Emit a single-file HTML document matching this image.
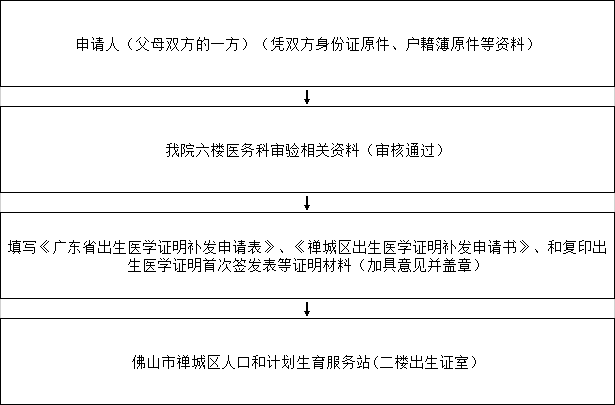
<!DOCTYPE html>
<html lang="zh-CN">
<head>
<meta charset="utf-8">
<title>出生医学证明补发流程</title>
<style>
html,body{margin:0;padding:0;background:#fff;}
body{width:615px;height:405px;overflow:hidden;position:relative;font-family:"Liberation Sans",sans-serif;}
.flow{position:absolute;left:0;top:0;width:615px;height:405px;background:#fff;overflow:hidden;}
.box{position:absolute;left:0;width:613px;height:85px;border:1px solid #000;background:#fff;}
.gap{position:absolute;left:0;width:613px;height:19px;border-left:1px solid #d0d0d0;border-right:1px solid #d0d0d0;}
.ln{position:absolute;height:15px;margin:0;padding:0;}
.ln svg{position:absolute;left:0;top:0;display:block;shape-rendering:crispEdges;}
.ln span{position:absolute;left:0;top:0;width:100%;height:15px;font-size:15px;line-height:15px;white-space:nowrap;overflow:hidden;color:transparent;text-align:center;}
</style>
</head>
<body>
<div class="flow">
<div class="box" style="top:0px">
<p class="ln" style="left:74px;top:35px;width:465px"><svg width="465" height="15" viewBox="0 0 465 15" aria-hidden="true"><path fill="#000" d="M7 1h1v1h-1zM17 1h1v1h-1zM24 1h1v1h-1zM37 1h1v1h-1zM65 1h1v1h-1zM69 1h1v1h-1zM111 1h1v1h-1zM124 1h1v1h-1zM129 1h1v1h-1zM156 1h1v1h-1zM199 1h1v1h-1zM204 1h4v1h-4zM231 1h1v1h-1zM246 1h1v1h-1zM259 1h1v1h-1zM262 1h1v1h-1zM265 1h1v1h-1zM272 1h1v1h-1zM288 1h11v1h-11zM304 1h1v1h-1zM309 1h1v1h-1zM337 1h1v1h-1zM348 1h1v1h-1zM354 1h1v1h-1zM363 1h1v1h-1zM369 1h1v1h-1zM378 1h11v1h-11zM394 1h1v1h-1zM399 1h1v1h-1zM408 1h1v1h-1zM414 1h1v1h-1zM422 1h1v1h-1zM427 1h1v1h-1zM438 1h1v1h-1zM446 1h1v1h-1zM7 2h1v1h-1zM18 2h1v1h-1zM21 2h7v1h-7zM37 2h1v1h-1zM56 2h1v1h-1zM64 2h1v1h-1zM70 2h1v1h-1zM79 2h8v1h-8zM91 2h6v1h-6zM98 2h5v1h-5zM112 2h1v1h-1zM124 2h1v1h-1zM129 2h1v1h-1zM157 2h1v1h-1zM168 2h1v1h-1zM191 2h1v1h-1zM199 2h1v1h-1zM201 2h4v1h-4zM211 2h6v1h-6zM218 2h5v1h-5zM232 2h1v1h-1zM245 2h1v1h-1zM259 2h1v1h-1zM262 2h1v1h-1zM265 2h1v1h-1zM273 2h1v1h-1zM275 2h9v1h-9zM288 2h1v1h-1zM293 2h1v1h-1zM304 2h1v1h-1zM309 2h1v1h-1zM338 2h1v1h-1zM346 2h5v1h-5zM353 2h6v1h-6zM362 2h5v1h-5zM368 2h6v1h-6zM378 2h1v1h-1zM383 2h1v1h-1zM394 2h1v1h-1zM399 2h1v1h-1zM407 2h5v1h-5zM413 2h6v1h-6zM423 2h1v1h-1zM427 2h6v1h-6zM438 2h1v1h-1zM443 2h1v1h-1zM446 2h1v1h-1zM453 2h1v1h-1zM2 3h11v1h-11zM18 3h1v1h-1zM24 3h1v1h-1zM37 3h1v1h-1zM55 3h1v1h-1zM63 3h1v1h-1zM71 3h1v1h-1zM79 3h1v1h-1zM82 3h1v1h-1zM86 3h1v1h-1zM96 3h1v1h-1zM98 3h1v1h-1zM102 3h1v1h-1zM106 3h13v1h-13zM123 3h1v1h-1zM129 3h5v1h-5zM151 3h13v1h-13zM169 3h1v1h-1zM190 3h1v1h-1zM198 3h1v1h-1zM204 3h1v1h-1zM216 3h1v1h-1zM218 3h1v1h-1zM222 3h1v1h-1zM226 3h13v1h-13zM243 3h9v1h-9zM258 3h1v1h-1zM262 3h1v1h-1zM266 3h1v1h-1zM273 3h1v1h-1zM280 3h1v1h-1zM288 3h1v1h-1zM293 3h1v1h-1zM303 3h1v1h-1zM305 3h1v1h-1zM309 3h1v1h-1zM333 3h11v1h-11zM348 3h1v1h-1zM353 3h1v1h-1zM356 3h1v1h-1zM361 3h1v1h-1zM364 3h1v1h-1zM369 3h1v1h-1zM371 3h1v1h-1zM378 3h1v1h-1zM383 3h1v1h-1zM393 3h1v1h-1zM395 3h1v1h-1zM399 3h1v1h-1zM407 3h1v1h-1zM410 3h1v1h-1zM413 3h1v1h-1zM417 3h1v1h-1zM426 3h1v1h-1zM429 3h1v1h-1zM432 3h1v1h-1zM436 3h1v1h-1zM438 3h1v1h-1zM440 3h1v1h-1zM444 3h1v1h-1zM446 3h1v1h-1zM454 3h1v1h-1zM2 4h1v1h-1zM7 4h1v1h-1zM12 4h1v1h-1zM22 4h5v1h-5zM37 4h1v1h-1zM54 4h1v1h-1zM62 4h1v1h-1zM72 4h1v1h-1zM79 4h1v1h-1zM83 4h1v1h-1zM86 4h1v1h-1zM96 4h1v1h-1zM98 4h1v1h-1zM102 4h1v1h-1zM111 4h1v1h-1zM122 4h5v1h-5zM128 4h1v1h-1zM133 4h1v1h-1zM156 4h1v1h-1zM170 4h1v1h-1zM189 4h1v1h-1zM197 4h2v1h-2zM204 4h1v1h-1zM216 4h1v1h-1zM218 4h1v1h-1zM222 4h1v1h-1zM231 4h1v1h-1zM243 4h1v1h-1zM251 4h1v1h-1zM258 4h1v1h-1zM261 4h1v1h-1zM267 4h1v1h-1zM280 4h1v1h-1zM288 4h1v1h-1zM291 4h7v1h-7zM303 4h1v1h-1zM305 4h8v1h-8zM333 4h1v1h-1zM343 4h1v1h-1zM346 4h5v1h-5zM352 4h6v1h-6zM366 4h8v1h-8zM378 4h1v1h-1zM381 4h7v1h-7zM393 4h1v1h-1zM395 4h8v1h-8zM406 4h1v1h-1zM410 4h1v1h-1zM413 4h1v1h-1zM417 4h1v1h-1zM425 4h1v1h-1zM429 4h1v1h-1zM437 4h3v1h-3zM444 4h1v1h-1zM446 4h1v1h-1zM455 4h1v1h-1zM2 5h1v1h-1zM7 5h1v1h-1zM12 5h1v1h-1zM24 5h1v1h-1zM37 5h1v1h-1zM54 5h1v1h-1zM61 5h1v1h-1zM64 5h1v1h-1zM70 5h1v1h-1zM73 5h1v1h-1zM79 5h1v1h-1zM86 5h1v1h-1zM92 5h1v1h-1zM95 5h1v1h-1zM98 5h1v1h-1zM102 5h1v1h-1zM111 5h1v1h-1zM122 5h1v1h-1zM126 5h2v1h-2zM133 5h1v1h-1zM156 5h1v1h-1zM170 5h1v1h-1zM189 5h1v1h-1zM196 5h1v1h-1zM198 5h1v1h-1zM200 5h9v1h-9zM212 5h1v1h-1zM215 5h1v1h-1zM218 5h1v1h-1zM222 5h1v1h-1zM231 5h1v1h-1zM243 5h9v1h-9zM257 5h2v1h-2zM261 5h1v1h-1zM267 5h1v1h-1zM280 5h1v1h-1zM288 5h1v1h-1zM291 5h1v1h-1zM297 5h1v1h-1zM302 5h2v1h-2zM305 5h1v1h-1zM309 5h1v1h-1zM333 5h1v1h-1zM343 5h1v1h-1zM348 5h1v1h-1zM353 5h1v1h-1zM356 5h1v1h-1zM362 5h1v1h-1zM369 5h1v1h-1zM378 5h1v1h-1zM381 5h1v1h-1zM387 5h1v1h-1zM392 5h2v1h-2zM395 5h1v1h-1zM399 5h1v1h-1zM408 5h10v1h-10zM423 5h1v1h-1zM428 5h1v1h-1zM430 5h1v1h-1zM438 5h1v1h-1zM442 5h1v1h-1zM446 5h1v1h-1zM455 5h1v1h-1zM2 6h1v1h-1zM7 6h1v1h-1zM12 6h1v1h-1zM16 6h3v1h-3zM20 6h9v1h-9zM37 6h1v1h-1zM53 6h1v1h-1zM64 6h1v1h-1zM70 6h1v1h-1zM76 6h13v1h-13zM93 6h1v1h-1zM95 6h1v1h-1zM98 6h1v1h-1zM102 6h1v1h-1zM111 6h1v1h-1zM122 6h1v1h-1zM126 6h1v1h-1zM133 6h1v1h-1zM156 6h1v1h-1zM171 6h1v1h-1zM188 6h1v1h-1zM198 6h1v1h-1zM204 6h1v1h-1zM213 6h1v1h-1zM215 6h1v1h-1zM218 6h1v1h-1zM222 6h1v1h-1zM231 6h1v1h-1zM243 6h1v1h-1zM251 6h1v1h-1zM257 6h2v1h-2zM260 6h1v1h-1zM268 6h1v1h-1zM271 6h3v1h-3zM277 6h1v1h-1zM280 6h1v1h-1zM288 6h1v1h-1zM291 6h7v1h-7zM301 6h1v1h-1zM303 6h1v1h-1zM309 6h1v1h-1zM333 6h1v1h-1zM343 6h1v1h-1zM346 6h5v1h-5zM353 6h1v1h-1zM356 6h1v1h-1zM363 6h1v1h-1zM366 6h7v1h-7zM378 6h1v1h-1zM381 6h7v1h-7zM391 6h1v1h-1zM393 6h1v1h-1zM399 6h1v1h-1zM413 6h1v1h-1zM422 6h1v1h-1zM427 6h1v1h-1zM431 6h1v1h-1zM436 6h5v1h-5zM443 6h1v1h-1zM446 6h1v1h-1zM456 6h1v1h-1zM2 7h11v1h-11zM18 7h1v1h-1zM36 7h1v1h-1zM38 7h1v1h-1zM53 7h1v1h-1zM65 7h1v1h-1zM69 7h1v1h-1zM78 7h1v1h-1zM86 7h1v1h-1zM93 7h1v1h-1zM95 7h1v1h-1zM99 7h1v1h-1zM101 7h1v1h-1zM110 7h7v1h-7zM122 7h1v1h-1zM126 7h1v1h-1zM129 7h1v1h-1zM133 7h1v1h-1zM136 7h13v1h-13zM155 7h7v1h-7zM171 7h1v1h-1zM188 7h1v1h-1zM198 7h1v1h-1zM204 7h1v1h-1zM213 7h1v1h-1zM215 7h1v1h-1zM219 7h1v1h-1zM221 7h1v1h-1zM230 7h7v1h-7zM243 7h9v1h-9zM253 7h1v1h-1zM256 7h1v1h-1zM258 7h1v1h-1zM260 7h7v1h-7zM273 7h1v1h-1zM277 7h1v1h-1zM280 7h4v1h-4zM288 7h1v1h-1zM291 7h1v1h-1zM297 7h1v1h-1zM303 7h1v1h-1zM309 7h1v1h-1zM333 7h11v1h-11zM348 7h1v1h-1zM351 7h8v1h-8zM366 7h1v1h-1zM369 7h1v1h-1zM372 7h1v1h-1zM378 7h1v1h-1zM381 7h1v1h-1zM387 7h1v1h-1zM393 7h1v1h-1zM399 7h1v1h-1zM413 7h1v1h-1zM421 7h1v1h-1zM425 7h2v1h-2zM432 7h2v1h-2zM438 7h1v1h-1zM443 7h1v1h-1zM446 7h1v1h-1zM456 7h1v1h-1zM2 8h1v1h-1zM7 8h1v1h-1zM12 8h1v1h-1zM18 8h1v1h-1zM21 8h7v1h-7zM36 8h1v1h-1zM38 8h1v1h-1zM53 8h1v1h-1zM65 8h1v1h-1zM69 8h1v1h-1zM78 8h1v1h-1zM81 8h1v1h-1zM86 8h1v1h-1zM94 8h1v1h-1zM99 8h1v1h-1zM101 8h1v1h-1zM110 8h1v1h-1zM116 8h1v1h-1zM122 8h5v1h-5zM130 8h1v1h-1zM133 8h1v1h-1zM155 8h1v1h-1zM161 8h1v1h-1zM171 8h1v1h-1zM188 8h1v1h-1zM198 8h1v1h-1zM201 8h7v1h-7zM214 8h1v1h-1zM219 8h1v1h-1zM221 8h1v1h-1zM230 8h1v1h-1zM236 8h1v1h-1zM243 8h1v1h-1zM251 8h2v1h-2zM258 8h1v1h-1zM263 8h1v1h-1zM266 8h1v1h-1zM273 8h1v1h-1zM277 8h1v1h-1zM280 8h1v1h-1zM288 8h1v1h-1zM291 8h7v1h-7zM303 8h1v1h-1zM309 8h1v1h-1zM333 8h1v1h-1zM343 8h1v1h-1zM346 8h6v1h-6zM361 8h1v1h-1zM366 8h7v1h-7zM378 8h1v1h-1zM381 8h7v1h-7zM393 8h1v1h-1zM399 8h1v1h-1zM406 8h13v1h-13zM423 8h9v1h-9zM437 8h2v1h-2zM442 8h7v1h-7zM456 8h1v1h-1zM2 9h1v1h-1zM7 9h1v1h-1zM12 9h1v1h-1zM18 9h1v1h-1zM21 9h1v1h-1zM27 9h1v1h-1zM36 9h1v1h-1zM38 9h1v1h-1zM53 9h1v1h-1zM66 9h1v1h-1zM68 9h1v1h-1zM78 9h1v1h-1zM82 9h1v1h-1zM86 9h1v1h-1zM94 9h1v1h-1zM100 9h1v1h-1zM110 9h1v1h-1zM116 9h1v1h-1zM122 9h1v1h-1zM126 9h1v1h-1zM130 9h1v1h-1zM133 9h1v1h-1zM155 9h1v1h-1zM161 9h1v1h-1zM171 9h1v1h-1zM188 9h1v1h-1zM214 9h1v1h-1zM220 9h1v1h-1zM230 9h1v1h-1zM236 9h1v1h-1zM241 9h11v1h-11zM258 9h1v1h-1zM263 9h1v1h-1zM266 9h1v1h-1zM273 9h1v1h-1zM277 9h1v1h-1zM280 9h1v1h-1zM288 9h1v1h-1zM294 9h1v1h-1zM303 9h1v1h-1zM305 9h9v1h-9zM333 9h1v1h-1zM348 9h1v1h-1zM352 9h6v1h-6zM362 9h1v1h-1zM366 9h1v1h-1zM369 9h1v1h-1zM372 9h1v1h-1zM378 9h1v1h-1zM384 9h1v1h-1zM393 9h1v1h-1zM395 9h9v1h-9zM423 9h1v1h-1zM431 9h1v1h-1zM437 9h3v1h-3zM446 9h1v1h-1zM456 9h1v1h-1zM2 10h1v1h-1zM7 10h1v1h-1zM12 10h1v1h-1zM18 10h1v1h-1zM21 10h7v1h-7zM35 10h1v1h-1zM39 10h1v1h-1zM54 10h1v1h-1zM67 10h1v1h-1zM78 10h1v1h-1zM86 10h1v1h-1zM93 10h1v1h-1zM95 10h1v1h-1zM100 10h1v1h-1zM110 10h1v1h-1zM116 10h1v1h-1zM122 10h1v1h-1zM126 10h1v1h-1zM133 10h1v1h-1zM155 10h1v1h-1zM161 10h1v1h-1zM170 10h1v1h-1zM189 10h1v1h-1zM200 10h5v1h-5zM213 10h1v1h-1zM215 10h1v1h-1zM220 10h1v1h-1zM230 10h1v1h-1zM236 10h1v1h-1zM248 10h4v1h-4zM258 10h1v1h-1zM263 10h1v1h-1zM266 10h1v1h-1zM273 10h1v1h-1zM277 10h1v1h-1zM280 10h1v1h-1zM288 10h1v1h-1zM291 10h1v1h-1zM294 10h1v1h-1zM297 10h1v1h-1zM303 10h1v1h-1zM309 10h1v1h-1zM318 10h1v1h-1zM333 10h1v1h-1zM347 10h3v1h-3zM352 10h1v1h-1zM357 10h1v1h-1zM364 10h1v1h-1zM366 10h7v1h-7zM378 10h1v1h-1zM381 10h1v1h-1zM384 10h1v1h-1zM387 10h1v1h-1zM393 10h1v1h-1zM399 10h1v1h-1zM407 10h11v1h-11zM423 10h1v1h-1zM427 10h1v1h-1zM431 10h1v1h-1zM436 10h1v1h-1zM438 10h1v1h-1zM440 10h1v1h-1zM446 10h1v1h-1zM455 10h1v1h-1zM2 11h11v1h-11zM18 11h1v1h-1zM20 11h2v1h-2zM27 11h1v1h-1zM35 11h1v1h-1zM39 11h1v1h-1zM54 11h1v1h-1zM66 11h1v1h-1zM68 11h1v1h-1zM78 11h11v1h-11zM93 11h1v1h-1zM95 11h1v1h-1zM99 11h1v1h-1zM101 11h1v1h-1zM109 11h1v1h-1zM116 11h1v1h-1zM122 11h1v1h-1zM126 11h1v1h-1zM133 11h1v1h-1zM154 11h1v1h-1zM161 11h1v1h-1zM170 11h1v1h-1zM189 11h1v1h-1zM200 11h1v1h-1zM204 11h1v1h-1zM213 11h1v1h-1zM215 11h1v1h-1zM219 11h1v1h-1zM221 11h1v1h-1zM229 11h1v1h-1zM236 11h1v1h-1zM246 11h2v1h-2zM251 11h1v1h-1zM258 11h1v1h-1zM262 11h1v1h-1zM266 11h1v1h-1zM273 11h1v1h-1zM275 11h1v1h-1zM277 11h1v1h-1zM280 11h1v1h-1zM287 11h1v1h-1zM290 11h1v1h-1zM294 11h1v1h-1zM298 11h1v1h-1zM303 11h1v1h-1zM309 11h1v1h-1zM319 11h1v1h-1zM333 11h1v1h-1zM346 11h1v1h-1zM348 11h1v1h-1zM350 11h1v1h-1zM352 11h6v1h-6zM363 11h1v1h-1zM366 11h1v1h-1zM369 11h1v1h-1zM372 11h1v1h-1zM377 11h1v1h-1zM380 11h1v1h-1zM384 11h1v1h-1zM388 11h1v1h-1zM393 11h1v1h-1zM399 11h1v1h-1zM414 11h1v1h-1zM423 11h1v1h-1zM427 11h1v1h-1zM431 11h1v1h-1zM436 11h1v1h-1zM438 11h1v1h-1zM446 11h1v1h-1zM455 11h1v1h-1zM2 12h1v1h-1zM7 12h1v1h-1zM12 12h1v1h-1zM18 12h2v1h-2zM21 12h7v1h-7zM34 12h1v1h-1zM40 12h1v1h-1zM55 12h1v1h-1zM65 12h1v1h-1zM69 12h1v1h-1zM86 12h1v1h-1zM92 12h1v1h-1zM95 12h1v1h-1zM98 12h1v1h-1zM101 12h1v1h-1zM108 12h1v1h-1zM116 12h1v1h-1zM122 12h5v1h-5zM133 12h1v1h-1zM153 12h1v1h-1zM161 12h1v1h-1zM169 12h1v1h-1zM190 12h1v1h-1zM199 12h1v1h-1zM204 12h1v1h-1zM208 12h1v1h-1zM212 12h1v1h-1zM215 12h1v1h-1zM218 12h1v1h-1zM221 12h1v1h-1zM228 12h1v1h-1zM236 12h1v1h-1zM244 12h2v1h-2zM251 12h1v1h-1zM258 12h1v1h-1zM262 12h1v1h-1zM266 12h1v1h-1zM273 12h2v1h-2zM277 12h1v1h-1zM280 12h1v1h-1zM287 12h1v1h-1zM290 12h1v1h-1zM294 12h1v1h-1zM298 12h1v1h-1zM303 12h1v1h-1zM309 12h1v1h-1zM319 12h2v1h-2zM332 12h1v1h-1zM348 12h1v1h-1zM352 12h1v1h-1zM357 12h1v1h-1zM363 12h1v1h-1zM365 12h9v1h-9zM377 12h1v1h-1zM380 12h1v1h-1zM384 12h1v1h-1zM388 12h1v1h-1zM393 12h1v1h-1zM399 12h1v1h-1zM409 12h1v1h-1zM414 12h1v1h-1zM426 12h1v1h-1zM428 12h2v1h-2zM438 12h1v1h-1zM446 12h1v1h-1zM454 12h1v1h-1zM7 13h1v1h-1zM18 13h1v1h-1zM21 13h1v1h-1zM27 13h1v1h-1zM33 13h1v1h-1zM41 13h1v1h-1zM56 13h1v1h-1zM63 13h2v1h-2zM70 13h2v1h-2zM86 13h1v1h-1zM92 13h1v1h-1zM97 13h1v1h-1zM102 13h1v1h-1zM107 13h1v1h-1zM116 13h1v1h-1zM122 13h1v1h-1zM126 13h1v1h-1zM133 13h1v1h-1zM152 13h1v1h-1zM161 13h1v1h-1zM168 13h1v1h-1zM191 13h1v1h-1zM198 13h1v1h-1zM204 13h1v1h-1zM208 13h1v1h-1zM212 13h1v1h-1zM217 13h1v1h-1zM222 13h1v1h-1zM227 13h1v1h-1zM236 13h1v1h-1zM241 13h3v1h-3zM251 13h1v1h-1zM258 13h1v1h-1zM261 13h1v1h-1zM266 13h1v1h-1zM273 13h1v1h-1zM277 13h1v1h-1zM280 13h1v1h-1zM286 13h1v1h-1zM294 13h1v1h-1zM303 13h1v1h-1zM309 13h1v1h-1zM320 13h1v1h-1zM332 13h1v1h-1zM348 13h1v1h-1zM352 13h6v1h-6zM362 13h1v1h-1zM367 13h1v1h-1zM371 13h1v1h-1zM376 13h1v1h-1zM384 13h1v1h-1zM393 13h1v1h-1zM399 13h1v1h-1zM410 13h1v1h-1zM414 13h1v1h-1zM424 13h2v1h-2zM430 13h2v1h-2zM438 13h1v1h-1zM446 13h1v1h-1zM453 13h1v1h-1zM7 14h1v1h-1zM21 14h1v1h-1zM25 14h3v1h-3zM31 14h2v1h-2zM42 14h2v1h-2zM61 14h2v1h-2zM72 14h2v1h-2zM84 14h2v1h-2zM91 14h1v1h-1zM96 14h1v1h-1zM103 14h1v1h-1zM106 14h1v1h-1zM114 14h2v1h-2zM122 14h1v1h-1zM126 14h1v1h-1zM131 14h2v1h-2zM151 14h1v1h-1zM159 14h2v1h-2zM196 14h2v1h-2zM205 14h3v1h-3zM211 14h1v1h-1zM216 14h1v1h-1zM223 14h1v1h-1zM226 14h1v1h-1zM234 14h2v1h-2zM249 14h2v1h-2zM258 14h1v1h-1zM260 14h1v1h-1zM264 14h2v1h-2zM275 14h9v1h-9zM286 14h1v1h-1zM292 14h2v1h-2zM303 14h1v1h-1zM309 14h1v1h-1zM331 14h1v1h-1zM348 14h1v1h-1zM352 14h1v1h-1zM357 14h1v1h-1zM362 14h1v1h-1zM368 14h3v1h-3zM376 14h1v1h-1zM382 14h2v1h-2zM393 14h1v1h-1zM399 14h1v1h-1zM412 14h2v1h-2zM421 14h3v1h-3zM432 14h1v1h-1zM438 14h1v1h-1zM446 14h1v1h-1z"/></svg><span>申请人（父母双方的一方）（凭双方身份证原件、户籍簿原件等资料）</span></p>
</div>
<div class="gap" style="top:87px">
<p class="ln" style="left:299px;top:2px;width:15px"><svg width="15" height="15" viewBox="0 0 15 15" aria-hidden="true"><path fill="#000" d="M6 1h2v1h-2zM6 2h2v1h-2zM6 3h2v1h-2zM6 4h2v1h-2zM6 5h2v1h-2zM6 6h2v1h-2zM6 7h2v1h-2zM6 8h2v1h-2zM6 9h2v1h-2zM4 10h6v1h-6zM5 11h4v1h-4zM5 12h4v1h-4zM6 13h2v1h-2zM6 14h2v1h-2z"/></svg><span>↓</span></p>
</div>
<div class="box" style="top:106px">
<p class="ln" style="left:164px;top:35px;width:285px"><svg width="285" height="15" viewBox="0 0 285 15" aria-hidden="true"><path fill="#000" d="M5 1h2v1h-2zM9 1h1v1h-1zM24 1h1v1h-1zM36 1h1v1h-1zM48 1h1v1h-1zM54 1h1v1h-1zM80 1h1v1h-1zM101 1h1v1h-1zM111 1h1v1h-1zM129 1h1v1h-1zM139 1h1v1h-1zM154 1h1v1h-1zM160 1h1v1h-1zM167 1h1v1h-1zM172 1h1v1h-1zM183 1h1v1h-1zM191 1h1v1h-1zM216 1h1v1h-1zM228 1h1v1h-1zM233 1h1v1h-1zM242 1h1v1h-1zM246 1h7v1h-7zM266 1h1v1h-1zM2 2h3v1h-3zM9 2h1v1h-1zM11 2h1v1h-1zM16 2h4v1h-4zM25 2h1v1h-1zM37 2h1v1h-1zM48 2h1v1h-1zM51 2h1v1h-1zM54 2h1v1h-1zM57 2h1v1h-1zM62 2h12v1h-12zM79 2h8v1h-8zM95 2h2v1h-2zM98 2h1v1h-1zM101 2h1v1h-1zM112 2h1v1h-1zM121 2h3v1h-3zM129 2h1v1h-1zM139 2h1v1h-1zM143 2h6v1h-6zM155 2h1v1h-1zM160 2h1v1h-1zM168 2h1v1h-1zM172 2h6v1h-6zM183 2h1v1h-1zM188 2h1v1h-1zM191 2h1v1h-1zM206 2h1v1h-1zM217 2h1v1h-1zM228 2h1v1h-1zM234 2h1v1h-1zM243 2h1v1h-1zM248 2h1v1h-1zM251 2h1v1h-1zM257 2h1v1h-1zM266 2h1v1h-1zM273 2h1v1h-1zM4 3h1v1h-1zM9 3h1v1h-1zM12 3h1v1h-1zM16 3h1v1h-1zM19 3h1v1h-1zM21 3h8v1h-8zM38 3h1v1h-1zM48 3h1v1h-1zM52 3h1v1h-1zM54 3h1v1h-1zM56 3h1v1h-1zM62 3h1v1h-1zM78 3h1v1h-1zM85 3h1v1h-1zM92 3h3v1h-3zM99 3h1v1h-1zM101 3h1v1h-1zM106 3h13v1h-13zM123 3h1v1h-1zM128 3h1v1h-1zM130 3h1v1h-1zM139 3h1v1h-1zM143 3h1v1h-1zM148 3h1v1h-1zM155 3h1v1h-1zM159 3h1v1h-1zM171 3h1v1h-1zM174 3h1v1h-1zM177 3h1v1h-1zM181 3h1v1h-1zM183 3h1v1h-1zM185 3h1v1h-1zM189 3h1v1h-1zM191 3h1v1h-1zM205 3h1v1h-1zM211 3h13v1h-13zM228 3h1v1h-1zM231 3h8v1h-8zM243 3h1v1h-1zM250 3h1v1h-1zM258 3h1v1h-1zM266 3h1v1h-1zM274 3h1v1h-1zM4 4h1v1h-1zM9 4h1v1h-1zM16 4h1v1h-1zM19 4h1v1h-1zM21 4h1v1h-1zM28 4h1v1h-1zM38 4h1v1h-1zM46 4h13v1h-13zM62 4h1v1h-1zM65 4h1v1h-1zM77 4h1v1h-1zM80 4h1v1h-1zM84 4h1v1h-1zM94 4h1v1h-1zM99 4h1v1h-1zM101 4h1v1h-1zM106 4h1v1h-1zM112 4h1v1h-1zM118 4h1v1h-1zM121 4h1v1h-1zM123 4h1v1h-1zM127 4h1v1h-1zM131 4h1v1h-1zM136 4h6v1h-6zM143 4h1v1h-1zM148 4h1v1h-1zM152 4h11v1h-11zM170 4h1v1h-1zM174 4h1v1h-1zM182 4h3v1h-3zM189 4h1v1h-1zM191 4h1v1h-1zM204 4h1v1h-1zM211 4h1v1h-1zM217 4h1v1h-1zM223 4h1v1h-1zM226 4h5v1h-5zM234 4h1v1h-1zM246 4h7v1h-7zM258 4h1v1h-1zM260 4h9v1h-9zM275 4h1v1h-1zM1 5h13v1h-13zM16 5h1v1h-1zM18 5h1v1h-1zM21 5h1v1h-1zM31 5h13v1h-13zM48 5h1v1h-1zM52 5h1v1h-1zM54 5h1v1h-1zM56 5h1v1h-1zM62 5h1v1h-1zM65 5h7v1h-7zM81 5h3v1h-3zM94 5h1v1h-1zM97 5h1v1h-1zM101 5h1v1h-1zM112 5h1v1h-1zM121 5h1v1h-1zM123 5h1v1h-1zM126 5h1v1h-1zM132 5h1v1h-1zM139 5h1v1h-1zM143 5h1v1h-1zM148 5h1v1h-1zM157 5h1v1h-1zM168 5h1v1h-1zM173 5h1v1h-1zM175 5h1v1h-1zM183 5h1v1h-1zM187 5h1v1h-1zM191 5h1v1h-1zM204 5h1v1h-1zM217 5h1v1h-1zM228 5h1v1h-1zM234 5h1v1h-1zM236 5h1v1h-1zM246 5h1v1h-1zM249 5h1v1h-1zM252 5h1v1h-1zM266 5h1v1h-1zM275 5h1v1h-1zM4 6h1v1h-1zM9 6h1v1h-1zM16 6h1v1h-1zM18 6h1v1h-1zM22 6h6v1h-6zM48 6h1v1h-1zM51 6h1v1h-1zM54 6h1v1h-1zM57 6h1v1h-1zM62 6h1v1h-1zM64 6h1v1h-1zM68 6h1v1h-1zM79 6h2v1h-2zM84 6h2v1h-2zM91 6h6v1h-6zM98 6h1v1h-1zM101 6h1v1h-1zM107 6h11v1h-11zM121 6h1v1h-1zM123 6h1v1h-1zM125 6h1v1h-1zM127 6h5v1h-5zM133 6h1v1h-1zM138 6h2v1h-2zM143 6h6v1h-6zM157 6h1v1h-1zM167 6h1v1h-1zM172 6h1v1h-1zM176 6h1v1h-1zM181 6h5v1h-5zM188 6h1v1h-1zM191 6h1v1h-1zM203 6h1v1h-1zM212 6h11v1h-11zM228 6h1v1h-1zM233 6h1v1h-1zM236 6h1v1h-1zM241 6h3v1h-3zM246 6h1v1h-1zM249 6h1v1h-1zM252 6h1v1h-1zM261 6h1v1h-1zM266 6h1v1h-1zM276 6h1v1h-1zM4 7h1v1h-1zM9 7h1v1h-1zM12 7h1v1h-1zM16 7h1v1h-1zM19 7h1v1h-1zM47 7h3v1h-3zM58 7h1v1h-1zM62 7h1v1h-1zM68 7h1v1h-1zM76 7h3v1h-3zM86 7h3v1h-3zM94 7h1v1h-1zM98 7h1v1h-1zM101 7h1v1h-1zM107 7h1v1h-1zM112 7h1v1h-1zM117 7h1v1h-1zM121 7h1v1h-1zM123 7h1v1h-1zM138 7h3v1h-3zM143 7h1v1h-1zM148 7h1v1h-1zM157 7h1v1h-1zM166 7h1v1h-1zM170 7h2v1h-2zM177 7h2v1h-2zM183 7h1v1h-1zM188 7h1v1h-1zM191 7h1v1h-1zM203 7h1v1h-1zM212 7h1v1h-1zM217 7h1v1h-1zM222 7h1v1h-1zM227 7h3v1h-3zM231 7h2v1h-2zM235 7h1v1h-1zM243 7h1v1h-1zM246 7h7v1h-7zM256 7h3v1h-3zM262 7h1v1h-1zM266 7h1v1h-1zM276 7h1v1h-1zM4 8h1v1h-1zM10 8h1v1h-1zM12 8h1v1h-1zM16 8h1v1h-1zM19 8h1v1h-1zM35 8h1v1h-1zM39 8h1v1h-1zM47 8h2v1h-2zM50 8h1v1h-1zM54 8h1v1h-1zM62 8h1v1h-1zM64 8h9v1h-9zM81 8h1v1h-1zM93 8h2v1h-2zM97 8h7v1h-7zM107 8h1v1h-1zM112 8h1v1h-1zM117 8h1v1h-1zM121 8h4v1h-4zM128 8h1v1h-1zM132 8h1v1h-1zM137 8h1v1h-1zM139 8h1v1h-1zM141 8h1v1h-1zM143 8h1v1h-1zM148 8h1v1h-1zM151 8h13v1h-13zM168 8h9v1h-9zM182 8h2v1h-2zM187 8h7v1h-7zM203 8h1v1h-1zM212 8h1v1h-1zM217 8h1v1h-1zM222 8h1v1h-1zM227 8h2v1h-2zM230 8h1v1h-1zM234 8h1v1h-1zM237 8h1v1h-1zM243 8h1v1h-1zM246 8h1v1h-1zM249 8h1v1h-1zM252 8h1v1h-1zM258 8h1v1h-1zM262 8h1v1h-1zM266 8h1v1h-1zM276 8h1v1h-1zM3 9h2v1h-2zM10 9h2v1h-2zM16 9h1v1h-1zM19 9h1v1h-1zM21 9h8v1h-8zM35 9h1v1h-1zM40 9h1v1h-1zM46 9h1v1h-1zM48 9h1v1h-1zM51 9h8v1h-8zM62 9h1v1h-1zM68 9h1v1h-1zM77 9h10v1h-10zM93 9h3v1h-3zM101 9h1v1h-1zM107 9h11v1h-11zM124 9h1v1h-1zM129 9h1v1h-1zM132 9h1v1h-1zM137 9h1v1h-1zM139 9h1v1h-1zM143 9h6v1h-6zM157 9h1v1h-1zM168 9h1v1h-1zM176 9h1v1h-1zM182 9h3v1h-3zM191 9h1v1h-1zM203 9h1v1h-1zM212 9h11v1h-11zM226 9h1v1h-1zM228 9h1v1h-1zM233 9h1v1h-1zM236 9h1v1h-1zM243 9h1v1h-1zM246 9h1v1h-1zM249 9h1v1h-1zM252 9h1v1h-1zM258 9h1v1h-1zM266 9h1v1h-1zM276 9h1v1h-1zM1 10h2v1h-2zM4 10h1v1h-1zM10 10h1v1h-1zM16 10h1v1h-1zM19 10h1v1h-1zM23 10h1v1h-1zM26 10h1v1h-1zM34 10h1v1h-1zM41 10h1v1h-1zM48 10h1v1h-1zM53 10h1v1h-1zM56 10h1v1h-1zM62 10h1v1h-1zM67 10h1v1h-1zM69 10h1v1h-1zM81 10h1v1h-1zM86 10h1v1h-1zM92 10h1v1h-1zM94 10h1v1h-1zM96 10h1v1h-1zM101 10h1v1h-1zM107 10h1v1h-1zM112 10h1v1h-1zM117 10h1v1h-1zM124 10h1v1h-1zM126 10h1v1h-1zM129 10h1v1h-1zM132 10h1v1h-1zM136 10h1v1h-1zM139 10h1v1h-1zM143 10h1v1h-1zM148 10h1v1h-1zM157 10h2v1h-2zM168 10h1v1h-1zM172 10h1v1h-1zM176 10h1v1h-1zM181 10h1v1h-1zM183 10h1v1h-1zM185 10h1v1h-1zM191 10h1v1h-1zM204 10h1v1h-1zM212 10h1v1h-1zM217 10h1v1h-1zM222 10h1v1h-1zM228 10h1v1h-1zM232 10h1v1h-1zM235 10h1v1h-1zM243 10h1v1h-1zM246 10h7v1h-7zM258 10h1v1h-1zM266 10h1v1h-1zM275 10h1v1h-1zM4 11h1v1h-1zM9 11h1v1h-1zM11 11h1v1h-1zM13 11h1v1h-1zM16 11h3v1h-3zM23 11h1v1h-1zM26 11h1v1h-1zM34 11h1v1h-1zM42 11h1v1h-1zM48 11h1v1h-1zM52 11h2v1h-2zM55 11h1v1h-1zM62 11h1v1h-1zM66 11h1v1h-1zM70 11h1v1h-1zM80 11h1v1h-1zM86 11h1v1h-1zM91 11h1v1h-1zM94 11h1v1h-1zM101 11h1v1h-1zM107 11h1v1h-1zM112 11h1v1h-1zM117 11h1v1h-1zM121 11h2v1h-2zM124 11h1v1h-1zM127 11h1v1h-1zM131 11h1v1h-1zM139 11h1v1h-1zM143 11h1v1h-1zM148 11h1v1h-1zM156 11h1v1h-1zM158 11h1v1h-1zM168 11h1v1h-1zM172 11h1v1h-1zM176 11h1v1h-1zM181 11h1v1h-1zM183 11h1v1h-1zM191 11h1v1h-1zM204 11h1v1h-1zM212 11h1v1h-1zM217 11h1v1h-1zM222 11h1v1h-1zM228 11h1v1h-1zM231 11h1v1h-1zM234 11h2v1h-2zM243 11h1v1h-1zM246 11h1v1h-1zM249 11h1v1h-1zM252 11h1v1h-1zM258 11h1v1h-1zM266 11h1v1h-1zM275 11h1v1h-1zM4 12h1v1h-1zM8 12h1v1h-1zM11 12h1v1h-1zM13 12h1v1h-1zM16 12h1v1h-1zM22 12h1v1h-1zM26 12h1v1h-1zM33 12h1v1h-1zM42 12h1v1h-1zM48 12h1v1h-1zM54 12h1v1h-1zM62 12h1v1h-1zM65 12h1v1h-1zM71 12h1v1h-1zM79 12h1v1h-1zM86 12h1v1h-1zM94 12h1v1h-1zM101 12h1v1h-1zM107 12h11v1h-11zM124 12h1v1h-1zM127 12h1v1h-1zM131 12h1v1h-1zM139 12h1v1h-1zM143 12h6v1h-6zM155 12h1v1h-1zM159 12h1v1h-1zM171 12h1v1h-1zM173 12h2v1h-2zM183 12h1v1h-1zM191 12h1v1h-1zM205 12h1v1h-1zM212 12h11v1h-11zM228 12h1v1h-1zM233 12h1v1h-1zM236 12h1v1h-1zM243 12h1v1h-1zM246 12h1v1h-1zM249 12h1v1h-1zM251 12h2v1h-2zM258 12h1v1h-1zM264 12h3v1h-3zM274 12h1v1h-1zM4 13h1v1h-1zM7 13h1v1h-1zM12 13h2v1h-2zM16 13h1v1h-1zM21 13h1v1h-1zM26 13h1v1h-1zM28 13h1v1h-1zM32 13h1v1h-1zM43 13h1v1h-1zM48 13h1v1h-1zM53 13h1v1h-1zM55 13h2v1h-2zM62 13h1v1h-1zM64 13h1v1h-1zM78 13h1v1h-1zM86 13h1v1h-1zM94 13h1v1h-1zM101 13h1v1h-1zM107 13h1v1h-1zM112 13h1v1h-1zM117 13h1v1h-1zM124 13h1v1h-1zM130 13h1v1h-1zM139 13h1v1h-1zM143 13h1v1h-1zM148 13h1v1h-1zM153 13h2v1h-2zM160 13h2v1h-2zM169 13h2v1h-2zM175 13h2v1h-2zM183 13h1v1h-1zM191 13h1v1h-1zM206 13h1v1h-1zM212 13h1v1h-1zM217 13h1v1h-1zM222 13h1v1h-1zM228 13h1v1h-1zM232 13h1v1h-1zM237 13h1v1h-1zM242 13h1v1h-1zM244 13h1v1h-1zM257 13h1v1h-1zM259 13h1v1h-1zM273 13h1v1h-1zM2 14h2v1h-2zM7 14h1v1h-1zM13 14h1v1h-1zM16 14h1v1h-1zM20 14h1v1h-1zM27 14h2v1h-2zM31 14h1v1h-1zM43 14h1v1h-1zM48 14h1v1h-1zM51 14h2v1h-2zM57 14h1v1h-1zM62 14h12v1h-12zM77 14h1v1h-1zM84 14h2v1h-2zM94 14h1v1h-1zM101 14h1v1h-1zM112 14h1v1h-1zM122 14h2v1h-2zM125 14h9v1h-9zM139 14h1v1h-1zM143 14h1v1h-1zM148 14h1v1h-1zM151 14h2v1h-2zM162 14h2v1h-2zM166 14h3v1h-3zM177 14h1v1h-1zM183 14h1v1h-1zM191 14h1v1h-1zM217 14h1v1h-1zM228 14h1v1h-1zM231 14h1v1h-1zM237 14h1v1h-1zM241 14h1v1h-1zM245 14h9v1h-9zM256 14h1v1h-1zM260 14h9v1h-9z"/></svg><span>我院六楼医务科审验相关资料（审核通过）</span></p>
</div>
<div class="gap" style="top:193px">
<p class="ln" style="left:299px;top:2px;width:15px"><svg width="15" height="15" viewBox="0 0 15 15" aria-hidden="true"><path fill="#000" d="M6 1h2v1h-2zM6 2h2v1h-2zM6 3h2v1h-2zM6 4h2v1h-2zM6 5h2v1h-2zM6 6h2v1h-2zM6 7h2v1h-2zM6 8h2v1h-2zM6 9h2v1h-2zM4 10h6v1h-6zM5 11h4v1h-4zM5 12h4v1h-4zM6 13h2v1h-2zM6 14h2v1h-2z"/></svg><span>↓</span></p>
</div>
<div class="box" style="top:212px">
<p class="ln" style="left:6px;top:26px;width:600px"><svg width="600" height="15" viewBox="0 0 600 15" aria-hidden="true"><path fill="#000" d="M3 1h1v1h-1zM9 1h1v1h-1zM39 1h1v1h-1zM52 1h1v1h-1zM66 1h1v1h-1zM82 1h1v1h-1zM97 1h1v1h-1zM112 1h1v1h-1zM138 1h1v1h-1zM141 1h1v1h-1zM146 1h1v1h-1zM152 1h1v1h-1zM173 1h6v1h-6zM182 1h1v1h-1zM189 1h1v1h-1zM202 1h1v1h-1zM217 1h1v1h-1zM227 1h1v1h-1zM234 1h1v1h-1zM247 1h1v1h-1zM260 1h1v1h-1zM294 1h1v1h-1zM302 1h1v1h-1zM307 1h1v1h-1zM311 1h1v1h-1zM318 1h1v1h-1zM325 1h1v1h-1zM327 1h1v1h-1zM332 1h12v1h-12zM352 1h1v1h-1zM367 1h1v1h-1zM393 1h1v1h-1zM396 1h1v1h-1zM401 1h1v1h-1zM407 1h1v1h-1zM428 1h6v1h-6zM437 1h1v1h-1zM444 1h1v1h-1zM457 1h1v1h-1zM472 1h1v1h-1zM482 1h1v1h-1zM489 1h1v1h-1zM501 1h1v1h-1zM506 1h1v1h-1zM515 1h1v1h-1zM545 1h2v1h-2zM559 1h1v1h-1zM575 1h2v1h-2zM592 1h1v1h-1zM3 2h1v1h-1zM5 2h9v1h-9zM16 2h13v1h-13zM38 2h1v1h-1zM41 2h1v1h-1zM53 2h1v1h-1zM66 2h1v1h-1zM79 2h1v1h-1zM82 2h1v1h-1zM86 2h1v1h-1zM92 2h1v1h-1zM97 2h1v1h-1zM102 2h1v1h-1zM108 2h1v1h-1zM112 2h1v1h-1zM122 2h12v1h-12zM139 2h1v1h-1zM142 2h1v1h-1zM145 2h1v1h-1zM153 2h1v1h-1zM155 2h9v1h-9zM166 2h5v1h-5zM173 2h1v1h-1zM178 2h1v1h-1zM183 2h1v1h-1zM189 2h1v1h-1zM198 2h1v1h-1zM202 2h1v1h-1zM206 2h1v1h-1zM217 2h1v1h-1zM228 2h1v1h-1zM231 2h7v1h-7zM247 2h1v1h-1zM258 2h1v1h-1zM261 2h1v1h-1zM293 2h1v1h-1zM296 2h1v1h-1zM303 2h1v1h-1zM308 2h1v1h-1zM310 2h1v1h-1zM318 2h1v1h-1zM325 2h1v1h-1zM328 2h1v1h-1zM332 2h1v1h-1zM347 2h1v1h-1zM352 2h1v1h-1zM357 2h1v1h-1zM363 2h1v1h-1zM367 2h1v1h-1zM377 2h12v1h-12zM394 2h1v1h-1zM397 2h1v1h-1zM400 2h1v1h-1zM408 2h1v1h-1zM410 2h9v1h-9zM421 2h5v1h-5zM428 2h1v1h-1zM433 2h1v1h-1zM438 2h1v1h-1zM444 2h1v1h-1zM453 2h1v1h-1zM457 2h1v1h-1zM461 2h1v1h-1zM472 2h1v1h-1zM483 2h1v1h-1zM486 2h7v1h-7zM501 2h1v1h-1zM507 2h1v1h-1zM513 2h1v1h-1zM516 2h1v1h-1zM542 2h3v1h-3zM559 2h10v1h-10zM572 2h3v1h-3zM578 2h6v1h-6zM587 2h1v1h-1zM592 2h1v1h-1zM597 2h1v1h-1zM3 3h1v1h-1zM9 3h1v1h-1zM16 3h1v1h-1zM28 3h1v1h-1zM37 3h1v1h-1zM40 3h1v1h-1zM48 3h11v1h-11zM62 3h11v1h-11zM78 3h1v1h-1zM82 3h1v1h-1zM85 3h1v1h-1zM87 3h1v1h-1zM92 3h1v1h-1zM97 3h1v1h-1zM102 3h1v1h-1zM108 3h1v1h-1zM112 3h1v1h-1zM122 3h1v1h-1zM144 3h1v1h-1zM153 3h1v1h-1zM160 3h1v1h-1zM166 3h1v1h-1zM170 3h1v1h-1zM173 3h1v1h-1zM178 3h1v1h-1zM189 3h1v1h-1zM198 3h1v1h-1zM202 3h1v1h-1zM207 3h1v1h-1zM212 3h11v1h-11zM228 3h1v1h-1zM234 3h1v1h-1zM242 3h11v1h-11zM259 3h1v1h-1zM262 3h1v1h-1zM292 3h1v1h-1zM295 3h1v1h-1zM306 3h7v1h-7zM318 3h1v1h-1zM325 3h1v1h-1zM332 3h1v1h-1zM341 3h1v1h-1zM347 3h1v1h-1zM352 3h1v1h-1zM357 3h1v1h-1zM363 3h1v1h-1zM367 3h1v1h-1zM377 3h1v1h-1zM399 3h1v1h-1zM408 3h1v1h-1zM415 3h1v1h-1zM421 3h1v1h-1zM425 3h1v1h-1zM428 3h1v1h-1zM433 3h1v1h-1zM444 3h1v1h-1zM453 3h1v1h-1zM457 3h1v1h-1zM462 3h1v1h-1zM467 3h11v1h-11zM483 3h1v1h-1zM489 3h1v1h-1zM497 3h10v1h-10zM508 3h1v1h-1zM514 3h1v1h-1zM517 3h1v1h-1zM544 3h1v1h-1zM548 3h6v1h-6zM558 3h1v1h-1zM572 3h1v1h-1zM578 3h1v1h-1zM583 3h1v1h-1zM587 3h1v1h-1zM592 3h1v1h-1zM597 3h1v1h-1zM3 4h1v1h-1zM6 4h7v1h-7zM19 4h1v1h-1zM36 4h1v1h-1zM39 4h1v1h-1zM48 4h1v1h-1zM65 4h1v1h-1zM77 4h1v1h-1zM82 4h1v1h-1zM84 4h1v1h-1zM88 4h1v1h-1zM92 4h1v1h-1zM97 4h1v1h-1zM102 4h1v1h-1zM108 4h10v1h-10zM122 4h1v1h-1zM125 4h1v1h-1zM136 4h13v1h-13zM160 4h1v1h-1zM166 4h1v1h-1zM170 4h1v1h-1zM173 4h1v1h-1zM178 4h1v1h-1zM181 4h5v1h-5zM189 4h1v1h-1zM197 4h1v1h-1zM201 4h1v1h-1zM212 4h1v1h-1zM217 4h1v1h-1zM222 4h1v1h-1zM232 4h5v1h-5zM247 4h1v1h-1zM260 4h1v1h-1zM263 4h1v1h-1zM291 4h1v1h-1zM294 4h1v1h-1zM301 4h4v1h-4zM306 4h1v1h-1zM309 4h1v1h-1zM312 4h1v1h-1zM318 4h1v1h-1zM321 4h8v1h-8zM332 4h1v1h-1zM334 4h1v1h-1zM341 4h1v1h-1zM347 4h1v1h-1zM352 4h1v1h-1zM357 4h1v1h-1zM363 4h10v1h-10zM377 4h1v1h-1zM380 4h1v1h-1zM391 4h13v1h-13zM415 4h1v1h-1zM421 4h1v1h-1zM425 4h1v1h-1zM428 4h1v1h-1zM433 4h1v1h-1zM436 4h5v1h-5zM444 4h1v1h-1zM452 4h1v1h-1zM456 4h1v1h-1zM467 4h1v1h-1zM472 4h1v1h-1zM477 4h1v1h-1zM487 4h5v1h-5zM501 4h1v1h-1zM506 4h1v1h-1zM515 4h1v1h-1zM518 4h1v1h-1zM544 4h1v1h-1zM548 4h1v1h-1zM553 4h1v1h-1zM557 4h1v1h-1zM559 4h8v1h-8zM572 4h1v1h-1zM578 4h1v1h-1zM583 4h1v1h-1zM587 4h1v1h-1zM592 4h1v1h-1zM597 4h1v1h-1zM1 5h4v1h-4zM6 5h1v1h-1zM12 5h1v1h-1zM19 5h8v1h-8zM35 5h1v1h-1zM38 5h1v1h-1zM48 5h1v1h-1zM64 5h1v1h-1zM67 5h1v1h-1zM77 5h1v1h-1zM81 5h3v1h-3zM92 5h1v1h-1zM97 5h1v1h-1zM102 5h1v1h-1zM107 5h1v1h-1zM112 5h1v1h-1zM122 5h1v1h-1zM125 5h7v1h-7zM136 5h1v1h-1zM148 5h1v1h-1zM160 5h1v1h-1zM166 5h1v1h-1zM170 5h1v1h-1zM173 5h6v1h-6zM184 5h1v1h-1zM189 5h2v1h-2zM197 5h12v1h-12zM212 5h1v1h-1zM217 5h1v1h-1zM222 5h1v1h-1zM234 5h1v1h-1zM243 5h9v1h-9zM261 5h1v1h-1zM264 5h1v1h-1zM290 5h1v1h-1zM293 5h1v1h-1zM303 5h1v1h-1zM306 5h1v1h-1zM309 5h1v1h-1zM312 5h1v1h-1zM316 5h6v1h-6zM325 5h1v1h-1zM332 5h1v1h-1zM335 5h1v1h-1zM340 5h1v1h-1zM347 5h1v1h-1zM352 5h1v1h-1zM357 5h1v1h-1zM362 5h1v1h-1zM367 5h1v1h-1zM377 5h1v1h-1zM380 5h7v1h-7zM391 5h1v1h-1zM403 5h1v1h-1zM415 5h1v1h-1zM421 5h1v1h-1zM425 5h1v1h-1zM428 5h6v1h-6zM439 5h1v1h-1zM444 5h2v1h-2zM452 5h12v1h-12zM467 5h1v1h-1zM472 5h1v1h-1zM477 5h1v1h-1zM489 5h1v1h-1zM501 5h1v1h-1zM506 5h1v1h-1zM516 5h1v1h-1zM519 5h1v1h-1zM541 5h6v1h-6zM548 5h1v1h-1zM553 5h1v1h-1zM556 5h1v1h-1zM559 5h1v1h-1zM566 5h1v1h-1zM572 5h1v1h-1zM578 5h1v1h-1zM583 5h1v1h-1zM587 5h1v1h-1zM592 5h1v1h-1zM597 5h1v1h-1zM3 6h1v1h-1zM6 6h7v1h-7zM18 6h1v1h-1zM34 6h1v1h-1zM37 6h1v1h-1zM48 6h1v1h-1zM63 6h1v1h-1zM67 6h1v1h-1zM79 6h8v1h-8zM92 6h11v1h-11zM107 6h1v1h-1zM112 6h1v1h-1zM122 6h1v1h-1zM124 6h1v1h-1zM128 6h1v1h-1zM136 6h1v1h-1zM148 6h1v1h-1zM151 6h3v1h-3zM157 6h1v1h-1zM160 6h1v1h-1zM166 6h5v1h-5zM173 6h1v1h-1zM178 6h1v1h-1zM183 6h2v1h-2zM189 6h1v1h-1zM191 6h1v1h-1zM201 6h1v1h-1zM212 6h1v1h-1zM217 6h1v1h-1zM222 6h1v1h-1zM226 6h3v1h-3zM230 6h9v1h-9zM247 6h1v1h-1zM262 6h1v1h-1zM265 6h1v1h-1zM289 6h1v1h-1zM292 6h1v1h-1zM303 6h1v1h-1zM306 6h7v1h-7zM318 6h1v1h-1zM321 6h1v1h-1zM325 6h1v1h-1zM328 6h1v1h-1zM332 6h1v1h-1zM336 6h1v1h-1zM340 6h1v1h-1zM347 6h11v1h-11zM362 6h1v1h-1zM367 6h1v1h-1zM377 6h1v1h-1zM379 6h1v1h-1zM383 6h1v1h-1zM391 6h1v1h-1zM403 6h1v1h-1zM406 6h3v1h-3zM412 6h1v1h-1zM415 6h1v1h-1zM421 6h5v1h-5zM428 6h1v1h-1zM433 6h1v1h-1zM438 6h2v1h-2zM444 6h1v1h-1zM446 6h1v1h-1zM456 6h1v1h-1zM467 6h1v1h-1zM472 6h1v1h-1zM477 6h1v1h-1zM481 6h3v1h-3zM485 6h9v1h-9zM501 6h1v1h-1zM506 6h1v1h-1zM517 6h1v1h-1zM520 6h1v1h-1zM544 6h1v1h-1zM548 6h1v1h-1zM553 6h1v1h-1zM559 6h8v1h-8zM572 6h5v1h-5zM578 6h1v1h-1zM583 6h1v1h-1zM587 6h11v1h-11zM3 7h1v1h-1zM6 7h1v1h-1zM12 7h1v1h-1zM18 7h1v1h-1zM33 7h1v1h-1zM36 7h1v1h-1zM48 7h1v1h-1zM63 7h9v1h-9zM78 7h2v1h-2zM86 7h1v1h-1zM97 7h1v1h-1zM106 7h1v1h-1zM112 7h1v1h-1zM122 7h1v1h-1zM128 7h1v1h-1zM138 7h8v1h-8zM153 7h1v1h-1zM157 7h1v1h-1zM160 7h4v1h-4zM166 7h1v1h-1zM170 7h1v1h-1zM173 7h1v1h-1zM178 7h1v1h-1zM182 7h2v1h-2zM185 7h1v1h-1zM189 7h1v1h-1zM192 7h1v1h-1zM200 7h1v1h-1zM212 7h11v1h-11zM228 7h1v1h-1zM241 7h13v1h-13zM263 7h1v1h-1zM266 7h1v1h-1zM288 7h1v1h-1zM291 7h1v1h-1zM302 7h2v1h-2zM306 7h1v1h-1zM309 7h1v1h-1zM312 7h1v1h-1zM318 7h1v1h-1zM321 7h3v1h-3zM325 7h1v1h-1zM328 7h1v1h-1zM332 7h1v1h-1zM337 7h1v1h-1zM339 7h1v1h-1zM352 7h1v1h-1zM361 7h1v1h-1zM367 7h1v1h-1zM377 7h1v1h-1zM383 7h1v1h-1zM393 7h8v1h-8zM408 7h1v1h-1zM412 7h1v1h-1zM415 7h4v1h-4zM421 7h1v1h-1zM425 7h1v1h-1zM428 7h1v1h-1zM433 7h1v1h-1zM437 7h2v1h-2zM440 7h1v1h-1zM444 7h1v1h-1zM447 7h1v1h-1zM455 7h1v1h-1zM467 7h11v1h-11zM483 7h1v1h-1zM501 7h1v1h-1zM506 7h1v1h-1zM518 7h1v1h-1zM521 7h1v1h-1zM543 7h2v1h-2zM548 7h1v1h-1zM553 7h1v1h-1zM559 7h1v1h-1zM566 7h1v1h-1zM572 7h1v1h-1zM578 7h1v1h-1zM583 7h1v1h-1zM592 7h1v1h-1zM3 8h1v1h-1zM6 8h7v1h-7zM18 8h10v1h-10zM34 8h1v1h-1zM37 8h1v1h-1zM48 8h1v1h-1zM67 8h1v1h-1zM76 8h2v1h-2zM79 8h8v1h-8zM97 8h1v1h-1zM112 8h1v1h-1zM122 8h1v1h-1zM124 8h9v1h-9zM144 8h1v1h-1zM153 8h1v1h-1zM157 8h1v1h-1zM160 8h1v1h-1zM166 8h1v1h-1zM170 8h1v1h-1zM173 8h1v1h-1zM178 8h1v1h-1zM181 8h1v1h-1zM183 8h1v1h-1zM189 8h1v1h-1zM193 8h1v1h-1zM200 8h7v1h-7zM212 8h1v1h-1zM217 8h1v1h-1zM222 8h1v1h-1zM228 8h1v1h-1zM231 8h7v1h-7zM246 8h1v1h-1zM248 8h1v1h-1zM262 8h1v1h-1zM265 8h1v1h-1zM289 8h1v1h-1zM292 8h1v1h-1zM302 8h3v1h-3zM306 8h1v1h-1zM309 8h1v1h-1zM312 8h1v1h-1zM318 8h1v1h-1zM321 8h1v1h-1zM323 8h1v1h-1zM326 8h2v1h-2zM332 8h1v1h-1zM338 8h1v1h-1zM352 8h1v1h-1zM367 8h1v1h-1zM377 8h1v1h-1zM379 8h9v1h-9zM399 8h1v1h-1zM408 8h1v1h-1zM412 8h1v1h-1zM415 8h1v1h-1zM421 8h1v1h-1zM425 8h1v1h-1zM428 8h1v1h-1zM433 8h1v1h-1zM436 8h1v1h-1zM438 8h1v1h-1zM444 8h1v1h-1zM448 8h1v1h-1zM455 8h7v1h-7zM467 8h1v1h-1zM472 8h1v1h-1zM477 8h1v1h-1zM483 8h1v1h-1zM486 8h7v1h-7zM496 8h13v1h-13zM517 8h1v1h-1zM520 8h1v1h-1zM543 8h3v1h-3zM548 8h1v1h-1zM553 8h1v1h-1zM559 8h8v1h-8zM572 8h1v1h-1zM578 8h1v1h-1zM583 8h1v1h-1zM592 8h1v1h-1zM3 9h1v1h-1zM6 9h1v1h-1zM12 9h1v1h-1zM27 9h1v1h-1zM35 9h1v1h-1zM38 9h1v1h-1zM48 9h1v1h-1zM67 9h1v1h-1zM79 9h1v1h-1zM86 9h1v1h-1zM91 9h1v1h-1zM97 9h1v1h-1zM103 9h1v1h-1zM108 9h9v1h-9zM122 9h1v1h-1zM128 9h1v1h-1zM142 9h2v1h-2zM153 9h1v1h-1zM157 9h1v1h-1zM160 9h1v1h-1zM166 9h1v1h-1zM170 9h1v1h-1zM173 9h6v1h-6zM181 9h1v1h-1zM183 9h1v1h-1zM185 9h1v1h-1zM189 9h1v1h-1zM193 9h1v1h-1zM199 9h1v1h-1zM201 9h1v1h-1zM206 9h1v1h-1zM212 9h1v1h-1zM217 9h1v1h-1zM222 9h1v1h-1zM228 9h1v1h-1zM231 9h1v1h-1zM237 9h1v1h-1zM245 9h1v1h-1zM248 9h1v1h-1zM252 9h1v1h-1zM261 9h1v1h-1zM264 9h1v1h-1zM290 9h1v1h-1zM293 9h1v1h-1zM301 9h1v1h-1zM303 9h1v1h-1zM306 9h7v1h-7zM318 9h1v1h-1zM321 9h1v1h-1zM323 9h1v1h-1zM326 9h2v1h-2zM332 9h1v1h-1zM337 9h1v1h-1zM339 9h1v1h-1zM346 9h1v1h-1zM352 9h1v1h-1zM358 9h1v1h-1zM363 9h9v1h-9zM377 9h1v1h-1zM383 9h1v1h-1zM397 9h2v1h-2zM408 9h1v1h-1zM412 9h1v1h-1zM415 9h1v1h-1zM421 9h1v1h-1zM425 9h1v1h-1zM428 9h6v1h-6zM436 9h1v1h-1zM438 9h1v1h-1zM440 9h1v1h-1zM444 9h1v1h-1zM448 9h1v1h-1zM454 9h1v1h-1zM456 9h1v1h-1zM461 9h1v1h-1zM467 9h1v1h-1zM472 9h1v1h-1zM477 9h1v1h-1zM483 9h1v1h-1zM486 9h1v1h-1zM492 9h1v1h-1zM501 9h1v1h-1zM508 9h1v1h-1zM516 9h1v1h-1zM519 9h1v1h-1zM542 9h1v1h-1zM544 9h1v1h-1zM546 9h1v1h-1zM548 9h1v1h-1zM553 9h1v1h-1zM559 9h2v1h-2zM572 9h1v1h-1zM578 9h1v1h-1zM583 9h1v1h-1zM586 9h1v1h-1zM592 9h1v1h-1zM598 9h1v1h-1zM3 10h1v1h-1zM6 10h7v1h-7zM27 10h1v1h-1zM36 10h1v1h-1zM39 10h1v1h-1zM48 10h1v1h-1zM63 10h1v1h-1zM67 10h1v1h-1zM70 10h1v1h-1zM79 10h8v1h-8zM91 10h1v1h-1zM97 10h1v1h-1zM103 10h1v1h-1zM112 10h1v1h-1zM122 10h1v1h-1zM127 10h1v1h-1zM129 10h1v1h-1zM136 10h13v1h-13zM153 10h1v1h-1zM157 10h1v1h-1zM160 10h1v1h-1zM166 10h5v1h-5zM173 10h1v1h-1zM178 10h1v1h-1zM183 10h1v1h-1zM185 10h1v1h-1zM189 10h1v1h-1zM198 10h1v1h-1zM201 10h1v1h-1zM205 10h1v1h-1zM212 10h1v1h-1zM217 10h1v1h-1zM222 10h1v1h-1zM228 10h1v1h-1zM231 10h7v1h-7zM244 10h2v1h-2zM249 10h1v1h-1zM251 10h1v1h-1zM260 10h1v1h-1zM263 10h1v1h-1zM273 10h1v1h-1zM291 10h1v1h-1zM294 10h1v1h-1zM303 10h1v1h-1zM309 10h1v1h-1zM318 10h1v1h-1zM321 10h1v1h-1zM323 10h1v1h-1zM326 10h1v1h-1zM332 10h1v1h-1zM336 10h1v1h-1zM340 10h1v1h-1zM346 10h1v1h-1zM352 10h1v1h-1zM358 10h1v1h-1zM367 10h1v1h-1zM377 10h1v1h-1zM382 10h1v1h-1zM384 10h1v1h-1zM391 10h13v1h-13zM408 10h1v1h-1zM412 10h1v1h-1zM415 10h1v1h-1zM421 10h5v1h-5zM428 10h1v1h-1zM433 10h1v1h-1zM438 10h1v1h-1zM440 10h1v1h-1zM444 10h1v1h-1zM453 10h1v1h-1zM456 10h1v1h-1zM460 10h1v1h-1zM467 10h1v1h-1zM472 10h1v1h-1zM477 10h1v1h-1zM483 10h1v1h-1zM486 10h7v1h-7zM501 10h1v1h-1zM508 10h1v1h-1zM515 10h1v1h-1zM518 10h1v1h-1zM528 10h1v1h-1zM541 10h1v1h-1zM544 10h1v1h-1zM548 10h1v1h-1zM553 10h1v1h-1zM559 10h8v1h-8zM572 10h1v1h-1zM575 10h2v1h-2zM578 10h1v1h-1zM583 10h1v1h-1zM586 10h1v1h-1zM592 10h1v1h-1zM598 10h1v1h-1zM3 11h2v1h-2zM6 11h1v1h-1zM12 11h1v1h-1zM16 11h10v1h-10zM27 11h1v1h-1zM37 11h1v1h-1zM40 11h1v1h-1zM48 11h1v1h-1zM62 11h1v1h-1zM67 11h1v1h-1zM71 11h1v1h-1zM79 11h1v1h-1zM86 11h1v1h-1zM91 11h1v1h-1zM97 11h1v1h-1zM103 11h1v1h-1zM112 11h1v1h-1zM122 11h1v1h-1zM126 11h1v1h-1zM130 11h1v1h-1zM142 11h1v1h-1zM153 11h1v1h-1zM155 11h1v1h-1zM157 11h1v1h-1zM160 11h1v1h-1zM166 11h1v1h-1zM172 11h1v1h-1zM178 11h1v1h-1zM183 11h1v1h-1zM189 11h1v1h-1zM197 11h1v1h-1zM202 11h1v1h-1zM204 11h1v1h-1zM212 11h11v1h-11zM228 11h1v1h-1zM230 11h2v1h-2zM237 11h1v1h-1zM243 11h1v1h-1zM245 11h1v1h-1zM250 11h1v1h-1zM259 11h1v1h-1zM262 11h1v1h-1zM274 11h1v1h-1zM292 11h1v1h-1zM295 11h1v1h-1zM303 11h1v1h-1zM309 11h1v1h-1zM318 11h3v1h-3zM322 11h2v1h-2zM325 11h1v1h-1zM327 11h2v1h-2zM332 11h1v1h-1zM335 11h1v1h-1zM341 11h1v1h-1zM346 11h1v1h-1zM352 11h1v1h-1zM358 11h1v1h-1zM367 11h1v1h-1zM377 11h1v1h-1zM381 11h1v1h-1zM385 11h1v1h-1zM397 11h1v1h-1zM408 11h1v1h-1zM410 11h1v1h-1zM412 11h1v1h-1zM415 11h1v1h-1zM421 11h1v1h-1zM427 11h1v1h-1zM433 11h1v1h-1zM438 11h1v1h-1zM444 11h1v1h-1zM452 11h1v1h-1zM457 11h1v1h-1zM459 11h1v1h-1zM467 11h11v1h-11zM483 11h1v1h-1zM485 11h2v1h-2zM492 11h1v1h-1zM501 11h1v1h-1zM508 11h1v1h-1zM514 11h1v1h-1zM517 11h1v1h-1zM529 11h1v1h-1zM541 11h1v1h-1zM544 11h1v1h-1zM548 11h6v1h-6zM557 11h2v1h-2zM564 11h2v1h-2zM572 11h3v1h-3zM578 11h1v1h-1zM581 11h3v1h-3zM586 11h1v1h-1zM592 11h1v1h-1zM598 11h1v1h-1zM1 12h2v1h-2zM5 12h9v1h-9zM27 12h1v1h-1zM38 12h1v1h-1zM41 12h1v1h-1zM47 12h1v1h-1zM62 12h1v1h-1zM67 12h1v1h-1zM72 12h1v1h-1zM79 12h8v1h-8zM91 12h1v1h-1zM97 12h1v1h-1zM103 12h1v1h-1zM112 12h1v1h-1zM122 12h1v1h-1zM125 12h1v1h-1zM131 12h1v1h-1zM142 12h1v1h-1zM153 12h2v1h-2zM157 12h1v1h-1zM160 12h1v1h-1zM172 12h1v1h-1zM178 12h1v1h-1zM183 12h1v1h-1zM189 12h1v1h-1zM196 12h1v1h-1zM203 12h1v1h-1zM212 12h1v1h-1zM217 12h1v1h-1zM222 12h1v1h-1zM228 12h2v1h-2zM231 12h7v1h-7zM241 12h2v1h-2zM245 12h1v1h-1zM247 12h1v1h-1zM250 12h2v1h-2zM258 12h1v1h-1zM261 12h1v1h-1zM274 12h2v1h-2zM293 12h1v1h-1zM296 12h1v1h-1zM303 12h1v1h-1zM305 12h9v1h-9zM316 12h2v1h-2zM320 12h1v1h-1zM324 12h1v1h-1zM327 12h2v1h-2zM332 12h1v1h-1zM334 12h1v1h-1zM341 12h1v1h-1zM346 12h1v1h-1zM352 12h1v1h-1zM358 12h1v1h-1zM367 12h1v1h-1zM377 12h1v1h-1zM380 12h1v1h-1zM386 12h1v1h-1zM397 12h1v1h-1zM408 12h2v1h-2zM412 12h1v1h-1zM415 12h1v1h-1zM427 12h1v1h-1zM433 12h1v1h-1zM438 12h1v1h-1zM444 12h1v1h-1zM451 12h1v1h-1zM458 12h1v1h-1zM467 12h1v1h-1zM472 12h1v1h-1zM477 12h1v1h-1zM483 12h2v1h-2zM486 12h7v1h-7zM501 12h1v1h-1zM508 12h1v1h-1zM513 12h1v1h-1zM516 12h1v1h-1zM529 12h2v1h-2zM544 12h1v1h-1zM548 12h1v1h-1zM553 12h1v1h-1zM561 12h3v1h-3zM572 12h1v1h-1zM578 12h1v1h-1zM586 12h1v1h-1zM592 12h1v1h-1zM598 12h1v1h-1zM7 13h1v1h-1zM11 13h1v1h-1zM27 13h1v1h-1zM39 13h1v1h-1zM47 13h1v1h-1zM61 13h1v1h-1zM67 13h1v1h-1zM72 13h1v1h-1zM79 13h1v1h-1zM86 13h1v1h-1zM91 13h13v1h-13zM112 13h1v1h-1zM122 13h1v1h-1zM124 13h1v1h-1zM142 13h1v1h-1zM153 13h1v1h-1zM157 13h1v1h-1zM160 13h1v1h-1zM171 13h1v1h-1zM178 13h1v1h-1zM183 13h1v1h-1zM189 13h1v1h-1zM201 13h2v1h-2zM204 13h2v1h-2zM217 13h1v1h-1zM228 13h1v1h-1zM231 13h1v1h-1zM237 13h1v1h-1zM245 13h2v1h-2zM252 13h2v1h-2zM260 13h1v1h-1zM275 13h1v1h-1zM294 13h1v1h-1zM303 13h1v1h-1zM309 13h1v1h-1zM319 13h1v1h-1zM324 13h1v1h-1zM328 13h1v1h-1zM332 13h1v1h-1zM346 13h13v1h-13zM367 13h1v1h-1zM377 13h1v1h-1zM379 13h1v1h-1zM397 13h1v1h-1zM408 13h1v1h-1zM412 13h1v1h-1zM415 13h1v1h-1zM426 13h1v1h-1zM433 13h1v1h-1zM438 13h1v1h-1zM444 13h1v1h-1zM456 13h2v1h-2zM459 13h2v1h-2zM472 13h1v1h-1zM483 13h1v1h-1zM486 13h1v1h-1zM492 13h1v1h-1zM501 13h1v1h-1zM506 13h2v1h-2zM515 13h1v1h-1zM530 13h1v1h-1zM544 13h1v1h-1zM559 13h2v1h-2zM564 13h2v1h-2zM578 13h1v1h-1zM586 13h13v1h-13zM6 14h1v1h-1zM12 14h1v1h-1zM25 14h2v1h-2zM46 14h1v1h-1zM65 14h3v1h-3zM79 14h1v1h-1zM86 14h1v1h-1zM103 14h1v1h-1zM106 14h13v1h-13zM122 14h12v1h-12zM140 14h3v1h-3zM155 14h9v1h-9zM170 14h1v1h-1zM176 14h3v1h-3zM183 14h1v1h-1zM189 14h1v1h-1zM198 14h3v1h-3zM206 14h3v1h-3zM217 14h1v1h-1zM231 14h1v1h-1zM235 14h3v1h-3zM245 14h1v1h-1zM303 14h1v1h-1zM309 14h1v1h-1zM319 14h1v1h-1zM323 14h1v1h-1zM328 14h1v1h-1zM332 14h12v1h-12zM358 14h1v1h-1zM361 14h13v1h-13zM377 14h12v1h-12zM395 14h3v1h-3zM410 14h9v1h-9zM425 14h1v1h-1zM431 14h3v1h-3zM438 14h1v1h-1zM444 14h1v1h-1zM453 14h3v1h-3zM461 14h3v1h-3zM472 14h1v1h-1zM486 14h1v1h-1zM490 14h3v1h-3zM501 14h1v1h-1zM544 14h1v1h-1zM556 14h3v1h-3zM566 14h3v1h-3zM578 14h1v1h-1zM598 14h1v1h-1z"/></svg><span>填写《广东省出生医学证明补发申请表》、《禅城区出生医学证明补发申请书》、和复印出</span></p>
<p class="ln" style="left:126px;top:44px;width:360px"><svg width="360" height="15" viewBox="0 0 360 15" aria-hidden="true"><path fill="#000" d="M7 1h1v1h-1zM33 1h1v1h-1zM36 1h1v1h-1zM41 1h1v1h-1zM47 1h1v1h-1zM68 1h6v1h-6zM78 1h1v1h-1zM86 1h1v1h-1zM97 1h1v1h-1zM108 1h1v1h-1zM114 1h1v1h-1zM127 1h1v1h-1zM142 1h1v1h-1zM153 1h1v1h-1zM159 1h1v1h-1zM167 1h1v1h-1zM188 1h6v1h-6zM199 1h1v1h-1zM206 1h1v1h-1zM213 1h1v1h-1zM221 1h1v1h-1zM244 1h1v1h-1zM258 1h9v1h-9zM277 1h1v1h-1zM288 1h9v1h-9zM303 1h1v1h-1zM311 1h1v1h-1zM319 1h1v1h-1zM325 1h1v1h-1zM337 1h1v1h-1zM3 2h1v1h-1zM7 2h1v1h-1zM17 2h12v1h-12zM34 2h1v1h-1zM37 2h1v1h-1zM40 2h1v1h-1zM48 2h1v1h-1zM50 2h9v1h-9zM61 2h5v1h-5zM68 2h1v1h-1zM73 2h1v1h-1zM79 2h1v1h-1zM85 2h1v1h-1zM92 2h1v1h-1zM97 2h1v1h-1zM108 2h1v1h-1zM114 2h1v1h-1zM123 2h1v1h-1zM127 2h1v1h-1zM131 2h1v1h-1zM142 2h1v1h-1zM152 2h5v1h-5zM158 2h6v1h-6zM168 2h1v1h-1zM170 2h9v1h-9zM181 2h5v1h-5zM188 2h1v1h-1zM193 2h1v1h-1zM199 2h1v1h-1zM206 2h1v1h-1zM213 2h1v1h-1zM218 2h1v1h-1zM221 2h1v1h-1zM236 2h1v1h-1zM244 2h1v1h-1zM258 2h1v1h-1zM266 2h1v1h-1zM272 2h11v1h-11zM288 2h1v1h-1zM296 2h1v1h-1zM304 2h1v1h-1zM310 2h1v1h-1zM320 2h1v1h-1zM324 2h1v1h-1zM332 2h11v1h-11zM348 2h1v1h-1zM3 3h1v1h-1zM7 3h1v1h-1zM17 3h1v1h-1zM39 3h1v1h-1zM48 3h1v1h-1zM55 3h1v1h-1zM61 3h1v1h-1zM65 3h1v1h-1zM68 3h1v1h-1zM73 3h1v1h-1zM76 3h13v1h-13zM93 3h1v1h-1zM97 3h1v1h-1zM108 3h4v1h-4zM114 3h5v1h-5zM123 3h1v1h-1zM127 3h1v1h-1zM132 3h1v1h-1zM137 3h11v1h-11zM152 3h1v1h-1zM155 3h1v1h-1zM158 3h1v1h-1zM162 3h1v1h-1zM168 3h1v1h-1zM175 3h1v1h-1zM181 3h1v1h-1zM185 3h1v1h-1zM188 3h1v1h-1zM193 3h1v1h-1zM199 3h1v1h-1zM206 3h1v1h-1zM211 3h1v1h-1zM213 3h1v1h-1zM215 3h1v1h-1zM219 3h1v1h-1zM221 3h1v1h-1zM235 3h1v1h-1zM244 3h1v1h-1zM258 3h9v1h-9zM275 3h1v1h-1zM279 3h1v1h-1zM288 3h1v1h-1zM296 3h1v1h-1zM305 3h1v1h-1zM309 3h1v1h-1zM317 3h11v1h-11zM335 3h1v1h-1zM339 3h1v1h-1zM349 3h1v1h-1zM3 4h10v1h-10zM17 4h1v1h-1zM20 4h1v1h-1zM31 4h13v1h-13zM55 4h1v1h-1zM61 4h1v1h-1zM65 4h1v1h-1zM68 4h1v1h-1zM73 4h1v1h-1zM81 4h1v1h-1zM93 4h1v1h-1zM97 4h7v1h-7zM107 4h1v1h-1zM110 4h1v1h-1zM113 4h1v1h-1zM117 4h1v1h-1zM122 4h1v1h-1zM126 4h1v1h-1zM142 4h1v1h-1zM151 4h1v1h-1zM155 4h1v1h-1zM158 4h1v1h-1zM162 4h1v1h-1zM175 4h1v1h-1zM181 4h1v1h-1zM185 4h1v1h-1zM188 4h1v1h-1zM193 4h1v1h-1zM196 4h6v1h-6zM203 4h6v1h-6zM212 4h3v1h-3zM219 4h1v1h-1zM221 4h1v1h-1zM234 4h1v1h-1zM241 4h7v1h-7zM249 4h5v1h-5zM258 4h1v1h-1zM266 4h1v1h-1zM275 4h1v1h-1zM279 4h1v1h-1zM288 4h1v1h-1zM292 4h1v1h-1zM296 4h1v1h-1zM302 4h11v1h-11zM322 4h1v1h-1zM335 4h1v1h-1zM339 4h1v1h-1zM350 4h1v1h-1zM2 5h1v1h-1zM7 5h1v1h-1zM17 5h1v1h-1zM20 5h7v1h-7zM31 5h1v1h-1zM43 5h1v1h-1zM55 5h1v1h-1zM61 5h1v1h-1zM65 5h1v1h-1zM68 5h6v1h-6zM80 5h1v1h-1zM96 5h1v1h-1zM103 5h1v1h-1zM106 5h1v1h-1zM111 5h2v1h-2zM117 5h1v1h-1zM122 5h12v1h-12zM138 5h9v1h-9zM153 5h10v1h-10zM175 5h1v1h-1zM181 5h1v1h-1zM185 5h1v1h-1zM188 5h6v1h-6zM199 5h1v1h-1zM206 5h1v1h-1zM213 5h1v1h-1zM217 5h1v1h-1zM221 5h1v1h-1zM234 5h1v1h-1zM244 5h1v1h-1zM247 5h1v1h-1zM249 5h1v1h-1zM253 5h1v1h-1zM258 5h9v1h-9zM271 5h13v1h-13zM288 5h1v1h-1zM292 5h1v1h-1zM296 5h1v1h-1zM304 5h1v1h-1zM310 5h1v1h-1zM318 5h9v1h-9zM331 5h13v1h-13zM350 5h1v1h-1zM2 6h1v1h-1zM7 6h1v1h-1zM17 6h1v1h-1zM19 6h1v1h-1zM23 6h1v1h-1zM31 6h1v1h-1zM43 6h1v1h-1zM46 6h3v1h-3zM52 6h1v1h-1zM55 6h1v1h-1zM61 6h5v1h-5zM68 6h1v1h-1zM73 6h1v1h-1zM78 6h9v1h-9zM96 6h1v1h-1zM102 6h1v1h-1zM111 6h1v1h-1zM113 6h1v1h-1zM126 6h1v1h-1zM142 6h1v1h-1zM158 6h1v1h-1zM166 6h3v1h-3zM172 6h1v1h-1zM175 6h1v1h-1zM181 6h5v1h-5zM188 6h1v1h-1zM193 6h1v1h-1zM198 6h2v1h-2zM205 6h2v1h-2zM211 6h5v1h-5zM218 6h1v1h-1zM221 6h1v1h-1zM233 6h1v1h-1zM244 6h1v1h-1zM247 6h1v1h-1zM249 6h1v1h-1zM253 6h1v1h-1zM258 6h1v1h-1zM266 6h1v1h-1zM288 6h1v1h-1zM292 6h1v1h-1zM296 6h1v1h-1zM304 6h1v1h-1zM310 6h1v1h-1zM322 6h1v1h-1zM351 6h1v1h-1zM1 7h1v1h-1zM7 7h1v1h-1zM17 7h1v1h-1zM23 7h1v1h-1zM33 7h8v1h-8zM48 7h1v1h-1zM52 7h1v1h-1zM55 7h4v1h-4zM61 7h1v1h-1zM65 7h1v1h-1zM68 7h1v1h-1zM73 7h1v1h-1zM78 7h1v1h-1zM86 7h1v1h-1zM95 7h1v1h-1zM99 7h1v1h-1zM110 7h1v1h-1zM114 7h1v1h-1zM125 7h1v1h-1zM136 7h13v1h-13zM158 7h1v1h-1zM168 7h1v1h-1zM172 7h1v1h-1zM175 7h4v1h-4zM181 7h1v1h-1zM185 7h1v1h-1zM188 7h1v1h-1zM193 7h1v1h-1zM198 7h3v1h-3zM205 7h2v1h-2zM213 7h1v1h-1zM218 7h1v1h-1zM221 7h1v1h-1zM233 7h1v1h-1zM244 7h1v1h-1zM247 7h1v1h-1zM249 7h1v1h-1zM253 7h1v1h-1zM258 7h9v1h-9zM273 7h9v1h-9zM288 7h1v1h-1zM292 7h1v1h-1zM296 7h1v1h-1zM304 7h1v1h-1zM310 7h1v1h-1zM316 7h13v1h-13zM333 7h9v1h-9zM351 7h1v1h-1zM7 8h1v1h-1zM17 8h1v1h-1zM19 8h9v1h-9zM39 8h1v1h-1zM48 8h1v1h-1zM52 8h1v1h-1zM55 8h1v1h-1zM61 8h1v1h-1zM65 8h1v1h-1zM68 8h1v1h-1zM73 8h1v1h-1zM78 8h9v1h-9zM93 8h1v1h-1zM99 8h1v1h-1zM108 8h9v1h-9zM125 8h7v1h-7zM141 8h1v1h-1zM143 8h1v1h-1zM151 8h13v1h-13zM168 8h1v1h-1zM172 8h1v1h-1zM175 8h1v1h-1zM181 8h1v1h-1zM185 8h1v1h-1zM188 8h1v1h-1zM193 8h1v1h-1zM197 8h1v1h-1zM199 8h1v1h-1zM201 8h1v1h-1zM204 8h1v1h-1zM206 8h1v1h-1zM212 8h2v1h-2zM217 8h7v1h-7zM233 8h1v1h-1zM243 8h1v1h-1zM247 8h1v1h-1zM249 8h1v1h-1zM253 8h1v1h-1zM258 8h1v1h-1zM266 8h1v1h-1zM273 8h1v1h-1zM281 8h1v1h-1zM288 8h1v1h-1zM292 8h1v1h-1zM296 8h1v1h-1zM304 8h1v1h-1zM310 8h1v1h-1zM333 8h1v1h-1zM341 8h1v1h-1zM351 8h1v1h-1zM3 9h9v1h-9zM17 9h1v1h-1zM23 9h1v1h-1zM37 9h2v1h-2zM48 9h1v1h-1zM52 9h1v1h-1zM55 9h1v1h-1zM61 9h1v1h-1zM65 9h1v1h-1zM68 9h6v1h-6zM78 9h1v1h-1zM86 9h1v1h-1zM93 9h1v1h-1zM99 9h1v1h-1zM106 9h2v1h-2zM111 9h1v1h-1zM117 9h2v1h-2zM124 9h1v1h-1zM126 9h1v1h-1zM131 9h1v1h-1zM140 9h1v1h-1zM143 9h1v1h-1zM147 9h1v1h-1zM168 9h1v1h-1zM172 9h1v1h-1zM175 9h1v1h-1zM181 9h1v1h-1zM185 9h1v1h-1zM188 9h6v1h-6zM197 9h1v1h-1zM199 9h1v1h-1zM201 9h1v1h-1zM204 9h1v1h-1zM206 9h1v1h-1zM212 9h3v1h-3zM221 9h1v1h-1zM233 9h1v1h-1zM243 9h1v1h-1zM247 9h1v1h-1zM249 9h1v1h-1zM253 9h1v1h-1zM258 9h1v1h-1zM266 9h1v1h-1zM273 9h9v1h-9zM288 9h1v1h-1zM291 9h1v1h-1zM293 9h1v1h-1zM296 9h1v1h-1zM301 9h13v1h-13zM318 9h9v1h-9zM333 9h9v1h-9zM351 9h1v1h-1zM7 10h1v1h-1zM17 10h1v1h-1zM22 10h1v1h-1zM24 10h1v1h-1zM31 10h13v1h-13zM48 10h1v1h-1zM52 10h1v1h-1zM55 10h1v1h-1zM61 10h5v1h-5zM68 10h1v1h-1zM73 10h1v1h-1zM78 10h9v1h-9zM92 10h1v1h-1zM99 10h2v1h-2zM123 10h1v1h-1zM126 10h1v1h-1zM130 10h1v1h-1zM139 10h2v1h-2zM144 10h1v1h-1zM146 10h1v1h-1zM152 10h11v1h-11zM168 10h1v1h-1zM172 10h1v1h-1zM175 10h1v1h-1zM181 10h5v1h-5zM188 10h1v1h-1zM193 10h1v1h-1zM196 10h1v1h-1zM199 10h1v1h-1zM203 10h1v1h-1zM206 10h1v1h-1zM211 10h1v1h-1zM213 10h1v1h-1zM215 10h1v1h-1zM221 10h1v1h-1zM234 10h1v1h-1zM243 10h1v1h-1zM247 10h1v1h-1zM249 10h1v1h-1zM253 10h1v1h-1zM256 10h13v1h-13zM273 10h1v1h-1zM281 10h1v1h-1zM288 10h1v1h-1zM291 10h1v1h-1zM293 10h1v1h-1zM296 10h1v1h-1zM304 10h1v1h-1zM310 10h1v1h-1zM318 10h1v1h-1zM321 10h1v1h-1zM323 10h1v1h-1zM326 10h1v1h-1zM333 10h1v1h-1zM341 10h1v1h-1zM350 10h1v1h-1zM7 11h1v1h-1zM17 11h1v1h-1zM21 11h1v1h-1zM25 11h1v1h-1zM37 11h1v1h-1zM48 11h1v1h-1zM50 11h1v1h-1zM52 11h1v1h-1zM55 11h1v1h-1zM61 11h1v1h-1zM67 11h1v1h-1zM73 11h1v1h-1zM78 11h1v1h-1zM86 11h1v1h-1zM92 11h1v1h-1zM98 11h1v1h-1zM100 11h1v1h-1zM108 11h1v1h-1zM112 11h1v1h-1zM116 11h1v1h-1zM122 11h1v1h-1zM127 11h1v1h-1zM129 11h1v1h-1zM138 11h1v1h-1zM140 11h1v1h-1zM145 11h1v1h-1zM159 11h1v1h-1zM168 11h1v1h-1zM170 11h1v1h-1zM172 11h1v1h-1zM175 11h1v1h-1zM181 11h1v1h-1zM187 11h1v1h-1zM193 11h1v1h-1zM199 11h1v1h-1zM202 11h1v1h-1zM206 11h1v1h-1zM211 11h1v1h-1zM213 11h1v1h-1zM221 11h1v1h-1zM234 11h1v1h-1zM242 11h1v1h-1zM247 11h1v1h-1zM249 11h1v1h-1zM253 11h1v1h-1zM273 11h9v1h-9zM290 11h1v1h-1zM293 11h1v1h-1zM303 11h1v1h-1zM310 11h1v1h-1zM318 11h1v1h-1zM321 11h1v1h-1zM323 11h1v1h-1zM326 11h1v1h-1zM333 11h9v1h-9zM350 11h1v1h-1zM7 12h1v1h-1zM17 12h1v1h-1zM20 12h1v1h-1zM26 12h1v1h-1zM37 12h1v1h-1zM48 12h2v1h-2zM52 12h1v1h-1zM55 12h1v1h-1zM67 12h1v1h-1zM73 12h1v1h-1zM78 12h9v1h-9zM91 12h1v1h-1zM97 12h1v1h-1zM101 12h1v1h-1zM109 12h1v1h-1zM112 12h1v1h-1zM115 12h1v1h-1zM121 12h1v1h-1zM128 12h1v1h-1zM136 12h2v1h-2zM140 12h1v1h-1zM142 12h1v1h-1zM145 12h2v1h-2zM154 12h1v1h-1zM159 12h1v1h-1zM168 12h2v1h-2zM172 12h1v1h-1zM175 12h1v1h-1zM187 12h1v1h-1zM193 12h1v1h-1zM199 12h1v1h-1zM206 12h1v1h-1zM213 12h1v1h-1zM221 12h1v1h-1zM235 12h1v1h-1zM242 12h1v1h-1zM247 12h1v1h-1zM249 12h5v1h-5zM259 12h1v1h-1zM265 12h1v1h-1zM272 12h1v1h-1zM274 12h1v1h-1zM277 12h1v1h-1zM282 12h1v1h-1zM289 12h1v1h-1zM293 12h1v1h-1zM298 12h1v1h-1zM303 12h1v1h-1zM310 12h1v1h-1zM318 12h1v1h-1zM321 12h1v1h-1zM323 12h1v1h-1zM326 12h1v1h-1zM337 12h1v1h-1zM349 12h1v1h-1zM7 13h1v1h-1zM17 13h1v1h-1zM19 13h1v1h-1zM37 13h1v1h-1zM48 13h1v1h-1zM52 13h1v1h-1zM55 13h1v1h-1zM66 13h1v1h-1zM73 13h1v1h-1zM78 13h1v1h-1zM86 13h1v1h-1zM91 13h1v1h-1zM96 13h1v1h-1zM102 13h1v1h-1zM109 13h1v1h-1zM114 13h1v1h-1zM126 13h2v1h-2zM129 13h2v1h-2zM140 13h2v1h-2zM147 13h2v1h-2zM155 13h1v1h-1zM159 13h1v1h-1zM168 13h1v1h-1zM172 13h1v1h-1zM175 13h1v1h-1zM186 13h1v1h-1zM193 13h1v1h-1zM199 13h1v1h-1zM206 13h1v1h-1zM213 13h1v1h-1zM221 13h1v1h-1zM236 13h1v1h-1zM241 13h1v1h-1zM247 13h1v1h-1zM249 13h1v1h-1zM253 13h1v1h-1zM258 13h1v1h-1zM266 13h1v1h-1zM271 13h1v1h-1zM274 13h1v1h-1zM280 13h1v1h-1zM283 13h1v1h-1zM288 13h1v1h-1zM293 13h1v1h-1zM298 13h1v1h-1zM302 13h1v1h-1zM310 13h1v1h-1zM318 13h1v1h-1zM321 13h1v1h-1zM323 13h1v1h-1zM326 13h1v1h-1zM331 13h13v1h-13zM348 13h1v1h-1zM1 14h13v1h-13zM17 14h12v1h-12zM35 14h3v1h-3zM50 14h9v1h-9zM65 14h1v1h-1zM71 14h3v1h-3zM78 14h1v1h-1zM86 14h1v1h-1zM95 14h1v1h-1zM103 14h1v1h-1zM107 14h11v1h-11zM123 14h3v1h-3zM131 14h3v1h-3zM140 14h1v1h-1zM157 14h2v1h-2zM170 14h9v1h-9zM185 14h1v1h-1zM191 14h3v1h-3zM199 14h1v1h-1zM204 14h2v1h-2zM213 14h1v1h-1zM221 14h1v1h-1zM241 14h1v1h-1zM245 14h2v1h-2zM257 14h1v1h-1zM267 14h1v1h-1zM271 14h1v1h-1zM275 14h6v1h-6zM283 14h1v1h-1zM286 14h2v1h-2zM294 14h5v1h-5zM301 14h1v1h-1zM310 14h1v1h-1zM316 14h13v1h-13zM337 14h1v1h-1z"/></svg><span>生医学证明首次签发表等证明材料（加具意见并盖章）</span></p>
</div>
<div class="gap" style="top:299px">
<p class="ln" style="left:299px;top:2px;width:15px"><svg width="15" height="15" viewBox="0 0 15 15" aria-hidden="true"><path fill="#000" d="M6 1h2v1h-2zM6 2h2v1h-2zM6 3h2v1h-2zM6 4h2v1h-2zM6 5h2v1h-2zM6 6h2v1h-2zM6 7h2v1h-2zM6 8h2v1h-2zM6 9h2v1h-2zM4 10h6v1h-6zM5 11h4v1h-4zM5 12h4v1h-4zM6 13h2v1h-2zM6 14h2v1h-2z"/></svg><span>↓</span></p>
</div>
<div class="box" style="top:318px">
<p class="ln" style="left:130px;top:35px;width:353px"><svg width="353" height="15" viewBox="0 0 353 15" aria-hidden="true"><path fill="#000" d="M4 1h1v1h-1zM8 1h1v1h-1zM10 1h1v1h-1zM22 1h1v1h-1zM36 1h1v1h-1zM47 1h1v1h-1zM52 1h1v1h-1zM56 1h1v1h-1zM63 1h1v1h-1zM70 1h1v1h-1zM72 1h1v1h-1zM77 1h12v1h-12zM97 1h1v1h-1zM125 1h2v1h-2zM137 1h1v1h-1zM144 1h1v1h-1zM153 1h1v1h-1zM155 1h1v1h-1zM162 1h1v1h-1zM172 1h1v1h-1zM186 1h1v1h-1zM215 1h1v1h-1zM228 1h1v1h-1zM234 1h1v1h-1zM266 1h1v1h-1zM272 1h1v1h-1zM285 1h1v1h-1zM300 1h1v1h-1zM310 1h1v1h-1zM329 1h1v1h-1zM4 2h1v1h-1zM8 2h1v1h-1zM10 2h1v1h-1zM22 2h1v1h-1zM37 2h1v1h-1zM48 2h1v1h-1zM53 2h1v1h-1zM55 2h1v1h-1zM63 2h1v1h-1zM70 2h1v1h-1zM73 2h1v1h-1zM77 2h1v1h-1zM97 2h1v1h-1zM122 2h3v1h-3zM138 2h1v1h-1zM144 2h1v1h-1zM153 2h1v1h-1zM156 2h1v1h-1zM162 2h1v1h-1zM168 2h1v1h-1zM172 2h1v1h-1zM187 2h1v1h-1zM197 2h4v1h-4zM203 2h5v1h-5zM214 2h8v1h-8zM229 2h1v1h-1zM234 2h1v1h-1zM246 2h1v1h-1zM266 2h1v1h-1zM269 2h1v1h-1zM272 2h1v1h-1zM275 2h1v1h-1zM280 2h1v1h-1zM285 2h1v1h-1zM290 2h1v1h-1zM296 2h1v1h-1zM300 2h1v1h-1zM311 2h1v1h-1zM313 2h9v1h-9zM330 2h1v1h-1zM341 2h1v1h-1zM3 3h1v1h-1zM6 3h7v1h-7zM22 3h1v1h-1zM31 3h13v1h-13zM51 3h7v1h-7zM63 3h1v1h-1zM70 3h1v1h-1zM77 3h1v1h-1zM86 3h1v1h-1zM97 3h1v1h-1zM107 3h11v1h-11zM124 3h1v1h-1zM128 3h6v1h-6zM138 3h1v1h-1zM144 3h1v1h-1zM153 3h1v1h-1zM162 3h1v1h-1zM168 3h1v1h-1zM172 3h1v1h-1zM181 3h13v1h-13zM197 3h1v1h-1zM200 3h1v1h-1zM203 3h1v1h-1zM207 3h1v1h-1zM213 3h1v1h-1zM220 3h1v1h-1zM229 3h1v1h-1zM234 3h1v1h-1zM245 3h1v1h-1zM250 3h11v1h-11zM266 3h1v1h-1zM270 3h1v1h-1zM272 3h1v1h-1zM274 3h1v1h-1zM280 3h1v1h-1zM285 3h1v1h-1zM290 3h1v1h-1zM296 3h1v1h-1zM300 3h1v1h-1zM311 3h1v1h-1zM318 3h1v1h-1zM324 3h13v1h-13zM342 3h1v1h-1zM3 4h1v1h-1zM8 4h1v1h-1zM10 4h1v1h-1zM12 4h1v1h-1zM17 4h1v1h-1zM22 4h1v1h-1zM27 4h1v1h-1zM37 4h1v1h-1zM46 4h4v1h-4zM51 4h1v1h-1zM54 4h1v1h-1zM57 4h1v1h-1zM63 4h1v1h-1zM66 4h8v1h-8zM77 4h1v1h-1zM79 4h1v1h-1zM86 4h1v1h-1zM97 4h1v1h-1zM107 4h1v1h-1zM117 4h1v1h-1zM124 4h1v1h-1zM128 4h1v1h-1zM133 4h1v1h-1zM144 4h1v1h-1zM153 4h1v1h-1zM159 4h1v1h-1zM162 4h1v1h-1zM168 4h10v1h-10zM185 4h1v1h-1zM191 4h1v1h-1zM197 4h1v1h-1zM200 4h1v1h-1zM203 4h1v1h-1zM207 4h1v1h-1zM212 4h1v1h-1zM215 4h1v1h-1zM219 4h1v1h-1zM226 4h5v1h-5zM234 4h5v1h-5zM244 4h1v1h-1zM264 4h13v1h-13zM280 4h1v1h-1zM285 4h1v1h-1zM290 4h1v1h-1zM296 4h10v1h-10zM318 4h1v1h-1zM324 4h1v1h-1zM336 4h1v1h-1zM343 4h1v1h-1zM2 5h2v1h-2zM8 5h1v1h-1zM10 5h1v1h-1zM12 5h1v1h-1zM17 5h1v1h-1zM22 5h1v1h-1zM27 5h1v1h-1zM37 5h1v1h-1zM48 5h1v1h-1zM51 5h1v1h-1zM54 5h1v1h-1zM57 5h1v1h-1zM61 5h6v1h-6zM70 5h1v1h-1zM77 5h1v1h-1zM80 5h1v1h-1zM85 5h1v1h-1zM97 5h1v1h-1zM107 5h1v1h-1zM117 5h1v1h-1zM121 5h6v1h-6zM128 5h1v1h-1zM133 5h1v1h-1zM144 5h1v1h-1zM151 5h7v1h-7zM159 5h1v1h-1zM162 5h1v1h-1zM167 5h1v1h-1zM172 5h1v1h-1zM184 5h1v1h-1zM191 5h2v1h-2zM197 5h4v1h-4zM203 5h1v1h-1zM205 5h3v1h-3zM216 5h3v1h-3zM234 5h1v1h-1zM244 5h1v1h-1zM266 5h1v1h-1zM270 5h1v1h-1zM272 5h1v1h-1zM274 5h1v1h-1zM280 5h1v1h-1zM285 5h1v1h-1zM290 5h1v1h-1zM295 5h1v1h-1zM300 5h1v1h-1zM318 5h1v1h-1zM326 5h10v1h-10zM343 5h1v1h-1zM2 6h2v1h-2zM6 6h7v1h-7zM17 6h1v1h-1zM22 6h1v1h-1zM27 6h1v1h-1zM32 6h11v1h-11zM48 6h1v1h-1zM51 6h7v1h-7zM63 6h1v1h-1zM66 6h1v1h-1zM70 6h1v1h-1zM73 6h1v1h-1zM77 6h1v1h-1zM81 6h1v1h-1zM85 6h1v1h-1zM97 6h1v1h-1zM107 6h1v1h-1zM117 6h1v1h-1zM124 6h1v1h-1zM128 6h1v1h-1zM133 6h1v1h-1zM136 6h3v1h-3zM140 6h9v1h-9zM153 6h1v1h-1zM159 6h1v1h-1zM162 6h1v1h-1zM167 6h1v1h-1zM172 6h1v1h-1zM182 6h11v1h-11zM197 6h1v1h-1zM200 6h1v1h-1zM203 6h1v1h-1zM214 6h2v1h-2zM219 6h2v1h-2zM230 6h1v1h-1zM234 6h1v1h-1zM243 6h1v1h-1zM266 6h1v1h-1zM269 6h1v1h-1zM272 6h1v1h-1zM275 6h1v1h-1zM280 6h11v1h-11zM295 6h1v1h-1zM300 6h1v1h-1zM309 6h3v1h-3zM315 6h1v1h-1zM318 6h1v1h-1zM328 6h1v1h-1zM333 6h1v1h-1zM344 6h1v1h-1zM1 7h1v1h-1zM3 7h1v1h-1zM6 7h1v1h-1zM8 7h1v1h-1zM10 7h1v1h-1zM17 7h1v1h-1zM22 7h1v1h-1zM27 7h1v1h-1zM32 7h1v1h-1zM37 7h1v1h-1zM42 7h1v1h-1zM47 7h2v1h-2zM51 7h1v1h-1zM54 7h1v1h-1zM57 7h1v1h-1zM63 7h1v1h-1zM66 7h3v1h-3zM70 7h1v1h-1zM73 7h1v1h-1zM77 7h1v1h-1zM82 7h1v1h-1zM84 7h1v1h-1zM96 7h1v1h-1zM98 7h1v1h-1zM107 7h1v1h-1zM117 7h1v1h-1zM123 7h2v1h-2zM128 7h1v1h-1zM133 7h1v1h-1zM138 7h1v1h-1zM144 7h1v1h-1zM153 7h1v1h-1zM156 7h1v1h-1zM159 7h1v1h-1zM162 7h1v1h-1zM166 7h1v1h-1zM172 7h1v1h-1zM197 7h1v1h-1zM200 7h1v1h-1zM203 7h5v1h-5zM211 7h3v1h-3zM221 7h3v1h-3zM226 7h1v1h-1zM230 7h1v1h-1zM234 7h1v1h-1zM243 7h1v1h-1zM265 7h3v1h-3zM276 7h1v1h-1zM285 7h1v1h-1zM294 7h1v1h-1zM300 7h1v1h-1zM311 7h1v1h-1zM315 7h1v1h-1zM318 7h4v1h-4zM327 7h1v1h-1zM333 7h2v1h-2zM344 7h1v1h-1zM3 8h1v1h-1zM6 8h1v1h-1zM8 8h1v1h-1zM10 8h1v1h-1zM17 8h1v1h-1zM22 8h1v1h-1zM27 8h1v1h-1zM32 8h1v1h-1zM37 8h1v1h-1zM42 8h1v1h-1zM47 8h3v1h-3zM51 8h1v1h-1zM54 8h1v1h-1zM57 8h1v1h-1zM63 8h1v1h-1zM66 8h1v1h-1zM68 8h1v1h-1zM71 8h2v1h-2zM77 8h1v1h-1zM83 8h1v1h-1zM96 8h1v1h-1zM98 8h1v1h-1zM107 8h1v1h-1zM117 8h1v1h-1zM123 8h3v1h-3zM128 8h1v1h-1zM133 8h1v1h-1zM138 8h1v1h-1zM144 8h1v1h-1zM153 8h1v1h-1zM156 8h1v1h-1zM159 8h1v1h-1zM162 8h1v1h-1zM172 8h1v1h-1zM183 8h9v1h-9zM197 8h4v1h-4zM203 8h1v1h-1zM207 8h1v1h-1zM216 8h1v1h-1zM227 8h1v1h-1zM230 8h1v1h-1zM232 8h6v1h-6zM243 8h1v1h-1zM265 8h2v1h-2zM268 8h1v1h-1zM272 8h1v1h-1zM285 8h1v1h-1zM300 8h1v1h-1zM311 8h1v1h-1zM315 8h1v1h-1zM318 8h1v1h-1zM326 8h9v1h-9zM344 8h1v1h-1zM3 9h1v1h-1zM6 9h8v1h-8zM17 9h1v1h-1zM22 9h1v1h-1zM27 9h1v1h-1zM32 9h1v1h-1zM37 9h1v1h-1zM42 9h1v1h-1zM46 9h1v1h-1zM48 9h1v1h-1zM51 9h7v1h-7zM63 9h1v1h-1zM66 9h1v1h-1zM68 9h1v1h-1zM71 9h2v1h-2zM77 9h1v1h-1zM82 9h1v1h-1zM84 9h1v1h-1zM96 9h1v1h-1zM98 9h1v1h-1zM107 9h1v1h-1zM117 9h1v1h-1zM122 9h1v1h-1zM124 9h1v1h-1zM126 9h1v1h-1zM128 9h1v1h-1zM133 9h1v1h-1zM138 9h1v1h-1zM144 9h1v1h-1zM153 9h1v1h-1zM155 9h1v1h-1zM159 9h1v1h-1zM162 9h1v1h-1zM168 9h9v1h-9zM183 9h1v1h-1zM191 9h1v1h-1zM197 9h1v1h-1zM200 9h1v1h-1zM203 9h2v1h-2zM207 9h1v1h-1zM212 9h10v1h-10zM227 9h1v1h-1zM229 9h1v1h-1zM232 9h1v1h-1zM237 9h1v1h-1zM243 9h1v1h-1zM264 9h1v1h-1zM266 9h1v1h-1zM269 9h8v1h-8zM279 9h1v1h-1zM285 9h1v1h-1zM291 9h1v1h-1zM296 9h9v1h-9zM311 9h1v1h-1zM315 9h1v1h-1zM318 9h1v1h-1zM330 9h1v1h-1zM344 9h1v1h-1zM3 10h1v1h-1zM8 10h1v1h-1zM10 10h1v1h-1zM13 10h1v1h-1zM17 10h1v1h-1zM22 10h1v1h-1zM27 10h1v1h-1zM32 10h1v1h-1zM37 10h1v1h-1zM42 10h1v1h-1zM48 10h1v1h-1zM54 10h1v1h-1zM63 10h1v1h-1zM66 10h1v1h-1zM68 10h1v1h-1zM71 10h1v1h-1zM77 10h1v1h-1zM81 10h1v1h-1zM85 10h1v1h-1zM95 10h1v1h-1zM99 10h1v1h-1zM107 10h1v1h-1zM117 10h1v1h-1zM121 10h1v1h-1zM124 10h1v1h-1zM128 10h1v1h-1zM133 10h1v1h-1zM138 10h1v1h-1zM144 10h1v1h-1zM154 10h1v1h-1zM159 10h1v1h-1zM162 10h1v1h-1zM172 10h1v1h-1zM183 10h9v1h-9zM197 10h1v1h-1zM200 10h1v1h-1zM203 10h1v1h-1zM205 10h2v1h-2zM216 10h1v1h-1zM221 10h1v1h-1zM227 10h1v1h-1zM229 10h1v1h-1zM232 10h1v1h-1zM237 10h1v1h-1zM243 10h1v1h-1zM266 10h1v1h-1zM271 10h1v1h-1zM274 10h1v1h-1zM279 10h1v1h-1zM285 10h1v1h-1zM291 10h1v1h-1zM300 10h1v1h-1zM311 10h1v1h-1zM315 10h1v1h-1zM318 10h1v1h-1zM330 10h1v1h-1zM343 10h1v1h-1zM3 11h1v1h-1zM8 11h1v1h-1zM10 11h1v1h-1zM13 11h1v1h-1zM17 11h1v1h-1zM22 11h1v1h-1zM27 11h1v1h-1zM32 11h1v1h-1zM37 11h1v1h-1zM42 11h1v1h-1zM48 11h1v1h-1zM54 11h1v1h-1zM63 11h3v1h-3zM67 11h2v1h-2zM70 11h1v1h-1zM72 11h2v1h-2zM77 11h1v1h-1zM80 11h1v1h-1zM86 11h1v1h-1zM95 11h1v1h-1zM99 11h1v1h-1zM107 11h1v1h-1zM117 11h1v1h-1zM121 11h1v1h-1zM124 11h1v1h-1zM128 11h6v1h-6zM138 11h1v1h-1zM140 11h1v1h-1zM144 11h1v1h-1zM153 11h2v1h-2zM157 11h1v1h-1zM162 11h1v1h-1zM172 11h1v1h-1zM183 11h1v1h-1zM191 11h1v1h-1zM197 11h1v1h-1zM200 11h1v1h-1zM203 11h1v1h-1zM205 11h1v1h-1zM215 11h1v1h-1zM221 11h1v1h-1zM232 11h1v1h-1zM237 11h1v1h-1zM244 11h1v1h-1zM266 11h1v1h-1zM270 11h2v1h-2zM273 11h1v1h-1zM279 11h1v1h-1zM285 11h1v1h-1zM291 11h1v1h-1zM300 11h1v1h-1zM311 11h1v1h-1zM313 11h1v1h-1zM315 11h1v1h-1zM318 11h1v1h-1zM326 11h10v1h-10zM343 11h1v1h-1zM3 12h1v1h-1zM7 12h1v1h-1zM10 12h1v1h-1zM13 12h1v1h-1zM17 12h1v1h-1zM22 12h1v1h-1zM27 12h1v1h-1zM32 12h1v1h-1zM37 12h1v1h-1zM40 12h3v1h-3zM48 12h1v1h-1zM50 12h9v1h-9zM61 12h2v1h-2zM65 12h1v1h-1zM69 12h1v1h-1zM72 12h2v1h-2zM77 12h1v1h-1zM79 12h1v1h-1zM86 12h1v1h-1zM94 12h1v1h-1zM100 12h1v1h-1zM107 12h11v1h-11zM124 12h1v1h-1zM128 12h1v1h-1zM133 12h1v1h-1zM138 12h2v1h-2zM144 12h1v1h-1zM152 12h1v1h-1zM155 12h1v1h-1zM157 12h1v1h-1zM162 12h1v1h-1zM172 12h1v1h-1zM183 12h9v1h-9zM197 12h1v1h-1zM200 12h1v1h-1zM203 12h2v1h-2zM206 12h1v1h-1zM214 12h1v1h-1zM221 12h1v1h-1zM228 12h3v1h-3zM232 12h1v1h-1zM237 12h1v1h-1zM244 12h1v1h-1zM266 12h1v1h-1zM272 12h1v1h-1zM279 12h1v1h-1zM285 12h1v1h-1zM291 12h1v1h-1zM300 12h1v1h-1zM311 12h2v1h-2zM315 12h1v1h-1zM318 12h1v1h-1zM330 12h1v1h-1zM342 12h1v1h-1zM3 13h1v1h-1zM6 13h1v1h-1zM10 13h1v1h-1zM12 13h2v1h-2zM17 13h11v1h-11zM37 13h1v1h-1zM48 13h1v1h-1zM54 13h1v1h-1zM64 13h1v1h-1zM69 13h1v1h-1zM73 13h1v1h-1zM77 13h1v1h-1zM93 13h1v1h-1zM101 13h1v1h-1zM107 13h1v1h-1zM117 13h1v1h-1zM124 13h1v1h-1zM138 13h1v1h-1zM144 13h1v1h-1zM151 13h1v1h-1zM156 13h2v1h-2zM162 13h1v1h-1zM172 13h1v1h-1zM183 13h1v1h-1zM191 13h1v1h-1zM196 13h1v1h-1zM200 13h1v1h-1zM203 13h1v1h-1zM207 13h1v1h-1zM213 13h1v1h-1zM221 13h1v1h-1zM226 13h3v1h-3zM232 13h6v1h-6zM245 13h1v1h-1zM249 13h13v1h-13zM266 13h1v1h-1zM271 13h1v1h-1zM273 13h2v1h-2zM279 13h13v1h-13zM300 13h1v1h-1zM311 13h1v1h-1zM315 13h1v1h-1zM318 13h1v1h-1zM330 13h1v1h-1zM341 13h1v1h-1zM3 14h1v1h-1zM6 14h1v1h-1zM10 14h1v1h-1zM27 14h1v1h-1zM37 14h1v1h-1zM48 14h1v1h-1zM54 14h1v1h-1zM64 14h1v1h-1zM68 14h1v1h-1zM73 14h1v1h-1zM77 14h12v1h-12zM91 14h2v1h-2zM102 14h2v1h-2zM124 14h1v1h-1zM144 14h1v1h-1zM157 14h1v1h-1zM160 14h2v1h-2zM166 14h13v1h-13zM183 14h1v1h-1zM189 14h3v1h-3zM196 14h1v1h-1zM199 14h1v1h-1zM203 14h1v1h-1zM208 14h1v1h-1zM212 14h1v1h-1zM219 14h2v1h-2zM232 14h1v1h-1zM237 14h1v1h-1zM246 14h1v1h-1zM266 14h1v1h-1zM269 14h2v1h-2zM275 14h1v1h-1zM291 14h1v1h-1zM294 14h13v1h-13zM313 14h9v1h-9zM324 14h13v1h-13z"/></svg><span>佛山市禅城区人口和计划生育服务站(二楼出生证室）</span></p>
</div>
</div>
</body>
</html>
